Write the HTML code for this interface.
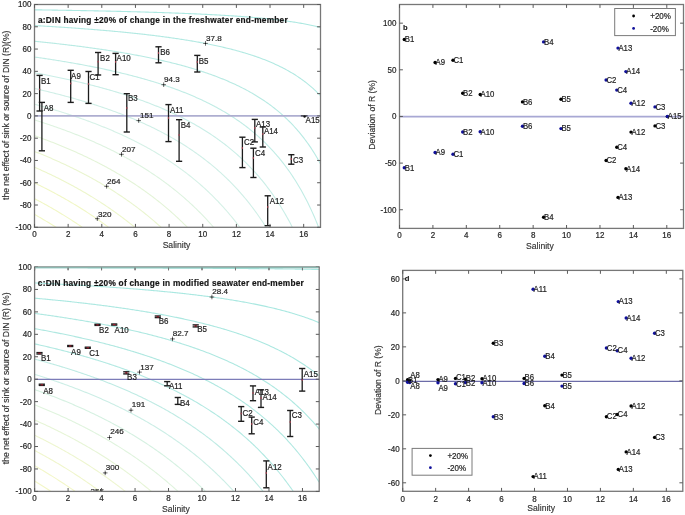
<!DOCTYPE html>
<html><head><meta charset="utf-8"><style>
html,body{margin:0;padding:0;background:#fff;}
svg{display:block;will-change:transform;}
text{font-family:"Liberation Sans",sans-serif;fill:#222;stroke:#222;stroke-width:0.2px;}
.tk{font-size:8.2px;fill:#2a2a2a;}
.al{font-size:8.6px;fill:#333;stroke:#333;stroke-width:0.15px;}
.ti{font-size:8.3px;font-weight:bold;fill:#111;letter-spacing:0.24px;stroke-width:0.2px;}
.lb{font-size:8.2px;fill:#1e1e1e;}
.lb2{font-size:8.2px;fill:#1e1e1e;}
.cl{font-size:8.1px;fill:#1e1e1e;}
.pl{font-size:7.6px;font-weight:bold;fill:#111;stroke-width:0.1px;}
.lg{font-size:8.2px;fill:#1e1e1e;}
</style></head>
<body>
<svg width="685" height="515" viewBox="0 0 685 515">
<defs>
<clipPath id="ca"><rect x="34.5" y="4.5" width="286" height="222.8"/></clipPath>
<clipPath id="cc"><rect x="34.6" y="267" width="284.6" height="224.4"/></clipPath>
</defs>
<rect width="685" height="515" fill="#fff"/>
<g clip-path="url(#ca)">
<path d="M34.5,9.82 L35.7,9.84 L36.89,9.85 L38.09,9.87 L39.29,9.89 L40.48,9.91 L41.68,9.92 L42.88,9.94 L44.07,9.96 L45.27,9.98 L46.47,10 L47.66,10.01 L48.86,10.03 L50.06,10.05 L51.25,10.07 L52.45,10.09 L53.65,10.11 L54.84,10.13 L56.04,10.15 L57.24,10.17 L58.43,10.19 L59.63,10.2 L60.83,10.22 L62.02,10.24 L63.22,10.26 L64.42,10.28 L65.61,10.31 L66.81,10.33 L68.01,10.35 L69.2,10.37 L70.4,10.39 L71.6,10.41 L72.79,10.43 L73.99,10.45 L75.19,10.47 L76.38,10.49 L77.58,10.52 L78.78,10.54 L79.97,10.56 L81.17,10.58 L82.37,10.61 L83.56,10.63 L84.76,10.65 L85.96,10.67 L87.15,10.7 L88.35,10.72 L89.55,10.74 L90.74,10.77 L91.94,10.79 L93.14,10.82 L94.33,10.84 L95.53,10.86 L96.73,10.89 L97.92,10.91 L99.12,10.94 L100.32,10.96 L101.51,10.99 L102.71,11.01 L103.91,11.04 L105.1,11.07 L106.3,11.09 L107.5,11.12 L108.69,11.15 L109.89,11.17 L111.09,11.2 L112.28,11.23 L113.48,11.25 L114.68,11.28 L115.87,11.31 L117.07,11.34 L118.27,11.37 L119.46,11.4 L120.66,11.42 L121.86,11.45 L123.05,11.48 L124.25,11.51 L125.45,11.54 L126.64,11.57 L127.84,11.6 L129.04,11.63 L130.23,11.66 L131.43,11.7 L132.63,11.73 L133.82,11.76 L135.02,11.79 L136.22,11.82 L137.41,11.86 L138.61,11.89 L139.81,11.92 L141,11.95 L142.2,11.99 L143.4,12.02 L144.59,12.06 L145.79,12.09 L146.99,12.13 L148.18,12.16 L149.38,12.2 L150.58,12.23 L151.77,12.27 L152.97,12.31 L154.17,12.34 L155.36,12.38 L156.56,12.42 L157.76,12.46 L158.95,12.5 L160.15,12.53 L161.35,12.57 L162.54,12.61 L163.74,12.65 L164.94,12.69 L166.13,12.73 L167.33,12.78 L168.53,12.82 L169.72,12.86 L170.92,12.9 L172.12,12.95 L173.31,12.99 L174.51,13.03 L175.71,13.08 L176.9,13.12 L178.1,13.17 L179.29,13.21 L180.49,13.26 L181.69,13.31 L182.88,13.35 L184.08,13.4 L185.28,13.45 L186.47,13.5 L187.67,13.55 L188.87,13.6 L190.06,13.65 L191.26,13.7 L192.46,13.75 L193.65,13.8 L194.85,13.85 L196.05,13.91 L197.24,13.96 L198.44,14.01 L199.64,14.07 L200.83,14.13 L202.03,14.18 L203.23,14.24 L204.42,14.3 L205.62,14.36 L206.82,14.41 L208.01,14.47 L209.21,14.53 L210.41,14.6 L211.6,14.66 L212.8,14.72 L214,14.78 L215.19,14.85 L216.39,14.91 L217.59,14.98 L218.78,15.05 L219.98,15.12 L221.18,15.18 L222.37,15.25 L223.57,15.32 L224.77,15.39 L225.96,15.47 L227.16,15.54 L228.36,15.61 L229.55,15.69 L230.75,15.77 L231.95,15.84 L233.14,15.92 L234.34,16 L235.54,16.08 L236.73,16.16 L237.93,16.25 L239.13,16.33 L240.32,16.42 L241.52,16.5 L242.72,16.59 L243.91,16.68 L245.11,16.77 L246.31,16.86 L247.5,16.95 L248.7,17.05 L249.9,17.15 L251.09,17.24 L252.29,17.34 L253.49,17.44 L254.68,17.54 L255.88,17.65 L257.08,17.75 L258.27,17.86 L259.47,17.97 L260.67,18.08 L261.86,18.19 L263.06,18.31 L264.26,18.42 L265.45,18.54 L266.65,18.66 L267.85,18.79 L269.04,18.91 L270.24,19.04 L271.44,19.17 L272.63,19.3 L273.83,19.43 L275.03,19.57 L276.22,19.71 L277.42,19.85 L278.62,19.99 L279.81,20.14 L281.01,20.29 L282.21,20.44 L283.4,20.59 L284.6,20.75 L285.8,20.91 L286.99,21.08 L288.19,21.25 L289.39,21.42 L290.58,21.59 L291.78,21.77 L292.98,21.95 L294.17,22.14 L295.37,22.33 L296.57,22.52 L297.76,22.72 L298.96,22.93 L300.16,23.13 L301.35,23.35 L302.55,23.56 L303.75,23.79 L304.94,24.01 L306.14,24.25 L307.34,24.49 L308.53,24.73 L309.73,24.98 L310.93,25.24 L312.12,25.5 L313.32,25.77 L314.52,26.05 L315.71,26.33 L316.91,26.63 L318.11,26.93 L319.3,27.24 L320.5,27.55" fill="none" stroke="#ace8e1" stroke-width="1.1"/>
<path d="M34.5,25.55 L35.7,25.62 L36.89,25.69 L38.09,25.76 L39.29,25.83 L40.48,25.9 L41.68,25.97 L42.88,26.04 L44.07,26.11 L45.27,26.18 L46.47,26.25 L47.66,26.33 L48.86,26.4 L50.06,26.47 L51.25,26.55 L52.45,26.62 L53.65,26.7 L54.84,26.77 L56.04,26.85 L57.24,26.93 L58.43,27 L59.63,27.08 L60.83,27.16 L62.02,27.24 L63.22,27.32 L64.42,27.4 L65.61,27.48 L66.81,27.56 L68.01,27.64 L69.2,27.72 L70.4,27.8 L71.6,27.89 L72.79,27.97 L73.99,28.06 L75.19,28.14 L76.38,28.23 L77.58,28.31 L78.78,28.4 L79.97,28.49 L81.17,28.58 L82.37,28.67 L83.56,28.76 L84.76,28.85 L85.96,28.94 L87.15,29.03 L88.35,29.12 L89.55,29.21 L90.74,29.31 L91.94,29.4 L93.14,29.5 L94.33,29.59 L95.53,29.69 L96.73,29.79 L97.92,29.88 L99.12,29.98 L100.32,30.08 L101.51,30.18 L102.71,30.29 L103.91,30.39 L105.1,30.49 L106.3,30.59 L107.5,30.7 L108.69,30.8 L109.89,30.91 L111.09,31.02 L112.28,31.12 L113.48,31.23 L114.68,31.34 L115.87,31.45 L117.07,31.57 L118.27,31.68 L119.46,31.79 L120.66,31.91 L121.86,32.02 L123.05,32.14 L124.25,32.25 L125.45,32.37 L126.64,32.49 L127.84,32.61 L129.04,32.73 L130.23,32.86 L131.43,32.98 L132.63,33.1 L133.82,33.23 L135.02,33.36 L136.22,33.48 L137.41,33.61 L138.61,33.74 L139.81,33.87 L141,34.01 L142.2,34.14 L143.4,34.28 L144.59,34.41 L145.79,34.55 L146.99,34.69 L148.18,34.83 L149.38,34.97 L150.58,35.11 L151.77,35.26 L152.97,35.4 L154.17,35.55 L155.36,35.7 L156.56,35.85 L157.76,36 L158.95,36.15 L160.15,36.3 L161.35,36.46 L162.54,36.61 L163.74,36.77 L164.94,36.93 L166.13,37.09 L167.33,37.26 L168.53,37.42 L169.72,37.59 L170.92,37.76 L172.12,37.93 L173.31,38.1 L174.51,38.27 L175.71,38.45 L176.9,38.63 L178.1,38.8 L179.29,38.98 L180.49,39.17 L181.69,39.35 L182.88,39.54 L184.08,39.73 L185.28,39.92 L186.47,40.11 L187.67,40.31 L188.87,40.5 L190.06,40.7 L191.26,40.9 L192.46,41.11 L193.65,41.31 L194.85,41.52 L196.05,41.73 L197.24,41.95 L198.44,42.16 L199.64,42.38 L200.83,42.6 L202.03,42.82 L203.23,43.05 L204.42,43.28 L205.62,43.51 L206.82,43.74 L208.01,43.98 L209.21,44.22 L210.41,44.46 L211.6,44.71 L212.8,44.96 L214,45.21 L215.19,45.46 L216.39,45.72 L217.59,45.98 L218.78,46.25 L219.98,46.52 L221.18,46.79 L222.37,47.06 L223.57,47.34 L224.77,47.62 L225.96,47.91 L227.16,48.2 L228.36,48.49 L229.55,48.79 L230.75,49.09 L231.95,49.4 L233.14,49.71 L234.34,50.02 L235.54,50.34 L236.73,50.67 L237.93,51 L239.13,51.33 L240.32,51.67 L241.52,52.01 L242.72,52.36 L243.91,52.71 L245.11,53.07 L246.31,53.43 L247.5,53.8 L248.7,54.17 L249.9,54.55 L251.09,54.94 L252.29,55.33 L253.49,55.73 L254.68,56.13 L255.88,56.54 L257.08,56.96 L258.27,57.39 L259.47,57.82 L260.67,58.25 L261.86,58.7 L263.06,59.15 L264.26,59.61 L265.45,60.08 L266.65,60.56 L267.85,61.04 L269.04,61.54 L270.24,62.04 L271.44,62.55 L272.63,63.07 L273.83,63.6 L275.03,64.14 L276.22,64.68 L277.42,65.24 L278.62,65.81 L279.81,66.39 L281.01,66.98 L282.21,67.59 L283.4,68.2 L284.6,68.83 L285.8,69.47 L286.99,70.12 L288.19,70.78 L289.39,71.46 L290.58,72.15 L291.78,72.86 L292.98,73.58 L294.17,74.32 L295.37,75.07 L296.57,75.84 L297.76,76.63 L298.96,77.43 L300.16,78.26 L301.35,79.1 L302.55,79.96 L303.75,80.84 L304.94,81.74 L306.14,82.66 L307.34,83.61 L308.53,84.57 L309.73,85.57 L310.93,86.58 L312.12,87.63 L313.32,88.7 L314.52,89.8 L315.71,90.92 L316.91,92.08 L318.11,93.27 L319.3,94.49 L320.5,95.74" fill="none" stroke="#b2e9e2" stroke-width="1.1"/>
<path d="M34.5,41.29 L35.7,41.41 L36.89,41.53 L38.09,41.65 L39.29,41.77 L40.48,41.89 L41.68,42.01 L42.88,42.14 L44.07,42.26 L45.27,42.39 L46.47,42.51 L47.66,42.64 L48.86,42.77 L50.06,42.9 L51.25,43.03 L52.45,43.16 L53.65,43.29 L54.84,43.42 L56.04,43.55 L57.24,43.69 L58.43,43.82 L59.63,43.96 L60.83,44.09 L62.02,44.23 L63.22,44.37 L64.42,44.51 L65.61,44.65 L66.81,44.79 L68.01,44.93 L69.2,45.08 L70.4,45.22 L71.6,45.37 L72.79,45.51 L73.99,45.66 L75.19,45.81 L76.38,45.96 L77.58,46.11 L78.78,46.26 L79.97,46.42 L81.17,46.57 L82.37,46.73 L83.56,46.88 L84.76,47.04 L85.96,47.2 L87.15,47.36 L88.35,47.52 L89.55,47.68 L90.74,47.85 L91.94,48.01 L93.14,48.18 L94.33,48.35 L95.53,48.51 L96.73,48.69 L97.92,48.86 L99.12,49.03 L100.32,49.2 L101.51,49.38 L102.71,49.56 L103.91,49.73 L105.1,49.91 L106.3,50.1 L107.5,50.28 L108.69,50.46 L109.89,50.65 L111.09,50.83 L112.28,51.02 L113.48,51.21 L114.68,51.4 L115.87,51.6 L117.07,51.79 L118.27,51.99 L119.46,52.19 L120.66,52.39 L121.86,52.59 L123.05,52.79 L124.25,53 L125.45,53.2 L126.64,53.41 L127.84,53.62 L129.04,53.83 L130.23,54.05 L131.43,54.26 L132.63,54.48 L133.82,54.7 L135.02,54.92 L136.22,55.15 L137.41,55.37 L138.61,55.6 L139.81,55.83 L141,56.06 L142.2,56.29 L143.4,56.53 L144.59,56.77 L145.79,57.01 L146.99,57.25 L148.18,57.49 L149.38,57.74 L150.58,57.99 L151.77,58.24 L152.97,58.49 L154.17,58.75 L155.36,59.01 L156.56,59.27 L157.76,59.53 L158.95,59.8 L160.15,60.07 L161.35,60.34 L162.54,60.62 L163.74,60.89 L164.94,61.17 L166.13,61.45 L167.33,61.74 L168.53,62.03 L169.72,62.32 L170.92,62.61 L172.12,62.91 L173.31,63.21 L174.51,63.51 L175.71,63.82 L176.9,64.13 L178.1,64.44 L179.29,64.76 L180.49,65.08 L181.69,65.4 L182.88,65.73 L184.08,66.06 L185.28,66.39 L186.47,66.73 L187.67,67.07 L188.87,67.41 L190.06,67.76 L191.26,68.11 L192.46,68.47 L193.65,68.83 L194.85,69.19 L196.05,69.56 L197.24,69.93 L198.44,70.31 L199.64,70.69 L200.83,71.07 L202.03,71.46 L203.23,71.86 L204.42,72.26 L205.62,72.66 L206.82,73.07 L208.01,73.49 L209.21,73.9 L210.41,74.33 L211.6,74.76 L212.8,75.19 L214,75.63 L215.19,76.08 L216.39,76.53 L217.59,76.98 L218.78,77.45 L219.98,77.92 L221.18,78.39 L222.37,78.87 L223.57,79.36 L224.77,79.85 L225.96,80.35 L227.16,80.86 L228.36,81.37 L229.55,81.89 L230.75,82.42 L231.95,82.96 L233.14,83.5 L234.34,84.05 L235.54,84.6 L236.73,85.17 L237.93,85.74 L239.13,86.33 L240.32,86.92 L241.52,87.51 L242.72,88.12 L243.91,88.74 L245.11,89.36 L246.31,90 L247.5,90.64 L248.7,91.3 L249.9,91.96 L251.09,92.63 L252.29,93.32 L253.49,94.01 L254.68,94.72 L255.88,95.44 L257.08,96.17 L258.27,96.91 L259.47,97.66 L260.67,98.43 L261.86,99.21 L263.06,100 L264.26,100.8 L265.45,101.62 L266.65,102.45 L267.85,103.3 L269.04,104.16 L270.24,105.04 L271.44,105.93 L272.63,106.84 L273.83,107.76 L275.03,108.7 L276.22,109.66 L277.42,110.64 L278.62,111.63 L279.81,112.65 L281.01,113.68 L282.21,114.73 L283.4,115.81 L284.6,116.9 L285.8,118.02 L286.99,119.16 L288.19,120.32 L289.39,121.5 L290.58,122.71 L291.78,123.95 L292.98,125.21 L294.17,126.5 L295.37,127.81 L296.57,129.16 L297.76,130.53 L298.96,131.94 L300.16,133.38 L301.35,134.85 L302.55,136.35 L303.75,137.89 L304.94,139.46 L306.14,141.08 L307.34,142.73 L308.53,144.42 L309.73,146.15 L310.93,147.93 L312.12,149.75 L313.32,151.62 L314.52,153.54 L315.71,155.51 L316.91,157.53 L318.11,159.61 L319.3,161.74 L320.5,163.94" fill="none" stroke="#b8eae3" stroke-width="1.1"/>
<path d="M34.5,57.03 L35.7,57.19 L36.89,57.37 L38.09,57.54 L39.29,57.71 L40.48,57.88 L41.68,58.06 L42.88,58.24 L44.07,58.41 L45.27,58.59 L46.47,58.77 L47.66,58.95 L48.86,59.14 L50.06,59.32 L51.25,59.5 L52.45,59.69 L53.65,59.88 L54.84,60.07 L56.04,60.26 L57.24,60.45 L58.43,60.64 L59.63,60.83 L60.83,61.03 L62.02,61.22 L63.22,61.42 L64.42,61.62 L65.61,61.82 L66.81,62.02 L68.01,62.23 L69.2,62.43 L70.4,62.64 L71.6,62.85 L72.79,63.06 L73.99,63.27 L75.19,63.48 L76.38,63.69 L77.58,63.91 L78.78,64.13 L79.97,64.34 L81.17,64.56 L82.37,64.79 L83.56,65.01 L84.76,65.24 L85.96,65.46 L87.15,65.69 L88.35,65.92 L89.55,66.15 L90.74,66.39 L91.94,66.62 L93.14,66.86 L94.33,67.1 L95.53,67.34 L96.73,67.58 L97.92,67.83 L99.12,68.07 L100.32,68.32 L101.51,68.57 L102.71,68.83 L103.91,69.08 L105.1,69.34 L106.3,69.6 L107.5,69.86 L108.69,70.12 L109.89,70.38 L111.09,70.65 L112.28,70.92 L113.48,71.19 L114.68,71.47 L115.87,71.74 L117.07,72.02 L118.27,72.3 L119.46,72.58 L120.66,72.87 L121.86,73.16 L123.05,73.45 L124.25,73.74 L125.45,74.03 L126.64,74.33 L127.84,74.63 L129.04,74.93 L130.23,75.24 L131.43,75.55 L132.63,75.86 L133.82,76.17 L135.02,76.49 L136.22,76.81 L137.41,77.13 L138.61,77.45 L139.81,77.78 L141,78.11 L142.2,78.45 L143.4,78.78 L144.59,79.12 L145.79,79.46 L146.99,79.81 L148.18,80.16 L149.38,80.51 L150.58,80.87 L151.77,81.23 L152.97,81.59 L154.17,81.95 L155.36,82.32 L156.56,82.7 L157.76,83.07 L158.95,83.45 L160.15,83.84 L161.35,84.23 L162.54,84.62 L163.74,85.01 L164.94,85.41 L166.13,85.81 L167.33,86.22 L168.53,86.63 L169.72,87.05 L170.92,87.47 L172.12,87.89 L173.31,88.32 L174.51,88.75 L175.71,89.19 L176.9,89.63 L178.1,90.08 L179.29,90.53 L180.49,90.99 L181.69,91.45 L182.88,91.91 L184.08,92.38 L185.28,92.86 L186.47,93.34 L187.67,93.83 L188.87,94.32 L190.06,94.81 L191.26,95.32 L192.46,95.83 L193.65,96.34 L194.85,96.86 L196.05,97.38 L197.24,97.92 L198.44,98.45 L199.64,99 L200.83,99.55 L202.03,100.11 L203.23,100.67 L204.42,101.24 L205.62,101.82 L206.82,102.4 L208.01,102.99 L209.21,103.59 L210.41,104.19 L211.6,104.81 L212.8,105.43 L214,106.06 L215.19,106.69 L216.39,107.34 L217.59,107.99 L218.78,108.65 L219.98,109.32 L221.18,109.99 L222.37,110.68 L223.57,111.38 L224.77,112.08 L225.96,112.79 L227.16,113.52 L228.36,114.25 L229.55,114.99 L230.75,115.75 L231.95,116.51 L233.14,117.29 L234.34,118.07 L235.54,118.87 L236.73,119.67 L237.93,120.49 L239.13,121.32 L240.32,122.16 L241.52,123.02 L242.72,123.89 L243.91,124.77 L245.11,125.66 L246.31,126.56 L247.5,127.48 L248.7,128.42 L249.9,129.37 L251.09,130.33 L252.29,131.31 L253.49,132.3 L254.68,133.31 L255.88,134.33 L257.08,135.38 L258.27,136.43 L259.47,137.51 L260.67,138.6 L261.86,139.71 L263.06,140.84 L264.26,141.99 L265.45,143.16 L266.65,144.35 L267.85,145.56 L269.04,146.79 L270.24,148.04 L271.44,149.31 L272.63,150.61 L273.83,151.93 L275.03,153.27 L276.22,154.64 L277.42,156.03 L278.62,157.46 L279.81,158.9 L281.01,160.38 L282.21,161.88 L283.4,163.41 L284.6,164.98 L285.8,166.57 L286.99,168.2 L288.19,169.85 L289.39,171.55 L290.58,173.27 L291.78,175.04 L292.98,176.84 L294.17,178.68 L295.37,180.56 L296.57,182.48 L297.76,184.44 L298.96,186.45 L300.16,188.5 L301.35,190.6 L302.55,192.74 L303.75,194.94 L304.94,197.19 L306.14,199.49 L307.34,201.85 L308.53,204.26 L309.73,206.74 L310.93,209.28 L312.12,211.88 L313.32,214.55 L314.52,217.29 L315.71,220.1 L316.91,222.99 L318.11,225.95 L319.3,229 L320.5,232.13" fill="none" stroke="#c1ece5" stroke-width="1.1"/>
<path d="M34.5,72.76 L35.7,72.98 L36.89,73.2 L38.09,73.43 L39.29,73.65 L40.48,73.88 L41.68,74.1 L42.88,74.33 L44.07,74.56 L45.27,74.8 L46.47,75.03 L47.66,75.27 L48.86,75.5 L50.06,75.74 L51.25,75.98 L52.45,76.22 L53.65,76.47 L54.84,76.71 L56.04,76.96 L57.24,77.21 L58.43,77.46 L59.63,77.71 L60.83,77.96 L62.02,78.22 L63.22,78.47 L64.42,78.73 L65.61,78.99 L66.81,79.26 L68.01,79.52 L69.2,79.79 L70.4,80.06 L71.6,80.33 L72.79,80.6 L73.99,80.87 L75.19,81.15 L76.38,81.43 L77.58,81.71 L78.78,81.99 L79.97,82.27 L81.17,82.56 L82.37,82.85 L83.56,83.14 L84.76,83.43 L85.96,83.73 L87.15,84.02 L88.35,84.32 L89.55,84.62 L90.74,84.93 L91.94,85.23 L93.14,85.54 L94.33,85.85 L95.53,86.17 L96.73,86.48 L97.92,86.8 L99.12,87.12 L100.32,87.44 L101.51,87.77 L102.71,88.1 L103.91,88.43 L105.1,88.76 L106.3,89.1 L107.5,89.44 L108.69,89.78 L109.89,90.12 L111.09,90.47 L112.28,90.82 L113.48,91.17 L114.68,91.53 L115.87,91.89 L117.07,92.25 L118.27,92.61 L119.46,92.98 L120.66,93.35 L121.86,93.72 L123.05,94.1 L124.25,94.48 L125.45,94.86 L126.64,95.25 L127.84,95.64 L129.04,96.04 L130.23,96.43 L131.43,96.83 L132.63,97.24 L133.82,97.64 L135.02,98.05 L136.22,98.47 L137.41,98.89 L138.61,99.31 L139.81,99.73 L141,100.16 L142.2,100.6 L143.4,101.03 L144.59,101.48 L145.79,101.92 L146.99,102.37 L148.18,102.83 L149.38,103.28 L150.58,103.75 L151.77,104.21 L152.97,104.68 L154.17,105.16 L155.36,105.64 L156.56,106.12 L157.76,106.61 L158.95,107.11 L160.15,107.61 L161.35,108.11 L162.54,108.62 L163.74,109.13 L164.94,109.65 L166.13,110.17 L167.33,110.7 L168.53,111.24 L169.72,111.78 L170.92,112.32 L172.12,112.87 L173.31,113.43 L174.51,113.99 L175.71,114.56 L176.9,115.14 L178.1,115.72 L179.29,116.3 L180.49,116.89 L181.69,117.49 L182.88,118.1 L184.08,118.71 L185.28,119.33 L186.47,119.95 L187.67,120.59 L188.87,121.22 L190.06,121.87 L191.26,122.52 L192.46,123.18 L193.65,123.85 L194.85,124.53 L196.05,125.21 L197.24,125.9 L198.44,126.6 L199.64,127.31 L200.83,128.02 L202.03,128.75 L203.23,129.48 L204.42,130.22 L205.62,130.97 L206.82,131.73 L208.01,132.5 L209.21,133.27 L210.41,134.06 L211.6,134.86 L212.8,135.66 L214,136.48 L215.19,137.31 L216.39,138.14 L217.59,138.99 L218.78,139.85 L219.98,140.72 L221.18,141.6 L222.37,142.49 L223.57,143.39 L224.77,144.31 L225.96,145.24 L227.16,146.18 L228.36,147.13 L229.55,148.1 L230.75,149.07 L231.95,150.07 L233.14,151.07 L234.34,152.09 L235.54,153.13 L236.73,154.18 L237.93,155.24 L239.13,156.32 L240.32,157.41 L241.52,158.52 L242.72,159.65 L243.91,160.79 L245.11,161.95 L246.31,163.13 L247.5,164.33 L248.7,165.54 L249.9,166.77 L251.09,168.03 L252.29,169.3 L253.49,170.59 L254.68,171.9 L255.88,173.23 L257.08,174.58 L258.27,175.96 L259.47,177.35 L260.67,178.78 L261.86,180.22 L263.06,181.69 L264.26,183.18 L265.45,184.7 L266.65,186.24 L267.85,187.81 L269.04,189.41 L270.24,191.04 L271.44,192.69 L272.63,194.38 L273.83,196.09 L275.03,197.84 L276.22,199.62 L277.42,201.43 L278.62,203.28 L279.81,205.16 L281.01,207.07 L282.21,209.03 L283.4,211.02 L284.6,213.05 L285.8,215.12 L286.99,217.23 L288.19,219.39 L289.39,221.59 L290.58,223.83 L291.78,226.13 L292.98,228.47 L294.17,230.86" fill="none" stroke="#caeee7" stroke-width="1.1"/>
<path d="M34.5,88.5 L35.7,88.77 L36.89,89.04 L38.09,89.31 L39.29,89.59 L40.48,89.87 L41.68,90.15 L42.88,90.43 L44.07,90.72 L45.27,91 L46.47,91.29 L47.66,91.58 L48.86,91.87 L50.06,92.16 L51.25,92.46 L52.45,92.76 L53.65,93.06 L54.84,93.36 L56.04,93.66 L57.24,93.97 L58.43,94.27 L59.63,94.58 L60.83,94.9 L62.02,95.21 L63.22,95.53 L64.42,95.85 L65.61,96.17 L66.81,96.49 L68.01,96.82 L69.2,97.14 L70.4,97.47 L71.6,97.81 L72.79,98.14 L73.99,98.48 L75.19,98.82 L76.38,99.16 L77.58,99.5 L78.78,99.85 L79.97,100.2 L81.17,100.55 L82.37,100.91 L83.56,101.27 L84.76,101.63 L85.96,101.99 L87.15,102.35 L88.35,102.72 L89.55,103.09 L90.74,103.47 L91.94,103.84 L93.14,104.22 L94.33,104.61 L95.53,104.99 L96.73,105.38 L97.92,105.77 L99.12,106.17 L100.32,106.56 L101.51,106.96 L102.71,107.37 L103.91,107.77 L105.1,108.19 L106.3,108.6 L107.5,109.02 L108.69,109.44 L109.89,109.86 L111.09,110.29 L112.28,110.72 L113.48,111.15 L114.68,111.59 L115.87,112.03 L117.07,112.48 L118.27,112.92 L119.46,113.38 L120.66,113.83 L121.86,114.29 L123.05,114.76 L124.25,115.22 L125.45,115.7 L126.64,116.17 L127.84,116.65 L129.04,117.14 L130.23,117.62 L131.43,118.12 L132.63,118.61 L133.82,119.11 L135.02,119.62 L136.22,120.13 L137.41,120.64 L138.61,121.16 L139.81,121.69 L141,122.22 L142.2,122.75 L143.4,123.29 L144.59,123.83 L145.79,124.38 L146.99,124.93 L148.18,125.49 L149.38,126.05 L150.58,126.62 L151.77,127.2 L152.97,127.78 L154.17,128.36 L155.36,128.95 L156.56,129.55 L157.76,130.15 L158.95,130.76 L160.15,131.37 L161.35,131.99 L162.54,132.62 L163.74,133.25 L164.94,133.89 L166.13,134.53 L167.33,135.19 L168.53,135.84 L169.72,136.51 L170.92,137.18 L172.12,137.86 L173.31,138.54 L174.51,139.23 L175.71,139.93 L176.9,140.64 L178.1,141.35 L179.29,142.07 L180.49,142.8 L181.69,143.54 L182.88,144.29 L184.08,145.04 L185.28,145.8 L186.47,146.57 L187.67,147.35 L188.87,148.13 L190.06,148.93 L191.26,149.73 L192.46,150.54 L193.65,151.37 L194.85,152.2 L196.05,153.04 L197.24,153.89 L198.44,154.75 L199.64,155.62 L200.83,156.5 L202.03,157.39 L203.23,158.29 L204.42,159.2 L205.62,160.12 L206.82,161.06 L208.01,162 L209.21,162.96 L210.41,163.93 L211.6,164.91 L212.8,165.9 L214,166.9 L215.19,167.92 L216.39,168.95 L217.59,169.99 L218.78,171.05 L219.98,172.12 L221.18,173.2 L222.37,174.3 L223.57,175.41 L224.77,176.54 L225.96,177.68 L227.16,178.84 L228.36,180.01 L229.55,181.2 L230.75,182.4 L231.95,183.62 L233.14,184.86 L234.34,186.12 L235.54,187.39 L236.73,188.68 L237.93,189.99 L239.13,191.32 L240.32,192.66 L241.52,194.03 L242.72,195.42 L243.91,196.82 L245.11,198.25 L246.31,199.7 L247.5,201.17 L248.7,202.66 L249.9,204.18 L251.09,205.72 L252.29,207.28 L253.49,208.87 L254.68,210.49 L255.88,212.12 L257.08,213.79 L258.27,215.48 L259.47,217.2 L260.67,218.95 L261.86,220.73 L263.06,222.53 L264.26,224.37 L265.45,226.24 L266.65,228.14 L267.85,230.07 L269.04,232.04" fill="none" stroke="#d0efe7" stroke-width="1.1"/>
<path d="M34.5,104.23 L35.7,104.55 L36.89,104.88 L38.09,105.2 L39.29,105.53 L40.48,105.86 L41.68,106.19 L42.88,106.53 L44.07,106.87 L45.27,107.21 L46.47,107.55 L47.66,107.89 L48.86,108.24 L50.06,108.59 L51.25,108.94 L52.45,109.29 L53.65,109.65 L54.84,110 L56.04,110.36 L57.24,110.73 L58.43,111.09 L59.63,111.46 L60.83,111.83 L62.02,112.2 L63.22,112.58 L64.42,112.96 L65.61,113.34 L66.81,113.72 L68.01,114.11 L69.2,114.5 L70.4,114.89 L71.6,115.28 L72.79,115.68 L73.99,116.08 L75.19,116.49 L76.38,116.89 L77.58,117.3 L78.78,117.71 L79.97,118.13 L81.17,118.55 L82.37,118.97 L83.56,119.39 L84.76,119.82 L85.96,120.25 L87.15,120.68 L88.35,121.12 L89.55,121.56 L90.74,122.01 L91.94,122.45 L93.14,122.9 L94.33,123.36 L95.53,123.82 L96.73,124.28 L97.92,124.74 L99.12,125.21 L100.32,125.68 L101.51,126.16 L102.71,126.64 L103.91,127.12 L105.1,127.61 L106.3,128.1 L107.5,128.6 L108.69,129.09 L109.89,129.6 L111.09,130.1 L112.28,130.62 L113.48,131.13 L114.68,131.65 L115.87,132.17 L117.07,132.7 L118.27,133.24 L119.46,133.77 L120.66,134.31 L121.86,134.86 L123.05,135.41 L124.25,135.97 L125.45,136.53 L126.64,137.09 L127.84,137.66 L129.04,138.24 L130.23,138.82 L131.43,139.4 L132.63,139.99 L133.82,140.59 L135.02,141.19 L136.22,141.79 L137.41,142.4 L138.61,143.02 L139.81,143.64 L141,144.27 L142.2,144.9 L143.4,145.54 L144.59,146.19 L145.79,146.84 L146.99,147.49 L148.18,148.16 L149.38,148.83 L150.58,149.5 L151.77,150.18 L152.97,150.87 L154.17,151.57 L155.36,152.27 L156.56,152.98 L157.76,153.69 L158.95,154.41 L160.15,155.14 L161.35,155.88 L162.54,156.62 L163.74,157.37 L164.94,158.13 L166.13,158.89 L167.33,159.67 L168.53,160.45 L169.72,161.24 L170.92,162.03 L172.12,162.84 L173.31,163.65 L174.51,164.47 L175.71,165.3 L176.9,166.14 L178.1,166.99 L179.29,167.85 L180.49,168.71 L181.69,169.59 L182.88,170.47 L184.08,171.37 L185.28,172.27 L186.47,173.18 L187.67,174.11 L188.87,175.04 L190.06,175.98 L191.26,176.94 L192.46,177.9 L193.65,178.88 L194.85,179.86 L196.05,180.86 L197.24,181.87 L198.44,182.89 L199.64,183.93 L200.83,184.97 L202.03,186.03 L203.23,187.1 L204.42,188.18 L205.62,189.28 L206.82,190.39 L208.01,191.51 L209.21,192.64 L210.41,193.79 L211.6,194.96 L212.8,196.13 L214,197.33 L215.19,198.53 L216.39,199.76 L217.59,200.99 L218.78,202.25 L219.98,203.52 L221.18,204.8 L222.37,206.11 L223.57,207.43 L224.77,208.77 L225.96,210.12 L227.16,211.5 L228.36,212.89 L229.55,214.3 L230.75,215.73 L231.95,217.18 L233.14,218.65 L234.34,220.14 L235.54,221.65 L236.73,223.18 L237.93,224.74 L239.13,226.31 L240.32,227.91 L241.52,229.54 L242.72,231.18 L243.91,232.85" fill="none" stroke="#d6f1e7" stroke-width="1.1"/>
<path d="M34.5,119.97 L35.7,120.34 L36.89,120.71 L38.09,121.09 L39.29,121.47 L40.48,121.85 L41.68,122.24 L42.88,122.63 L44.07,123.02 L45.27,123.41 L46.47,123.81 L47.66,124.2 L48.86,124.6 L50.06,125.01 L51.25,125.41 L52.45,125.82 L53.65,126.24 L54.84,126.65 L56.04,127.07 L57.24,127.49 L58.43,127.91 L59.63,128.34 L60.83,128.77 L62.02,129.2 L63.22,129.63 L64.42,130.07 L65.61,130.51 L66.81,130.96 L68.01,131.4 L69.2,131.85 L70.4,132.31 L71.6,132.76 L72.79,133.22 L73.99,133.69 L75.19,134.15 L76.38,134.62 L77.58,135.1 L78.78,135.58 L79.97,136.06 L81.17,136.54 L82.37,137.03 L83.56,137.52 L84.76,138.01 L85.96,138.51 L87.15,139.02 L88.35,139.52 L89.55,140.03 L90.74,140.55 L91.94,141.06 L93.14,141.59 L94.33,142.11 L95.53,142.64 L96.73,143.18 L97.92,143.71 L99.12,144.26 L100.32,144.8 L101.51,145.35 L102.71,145.91 L103.91,146.47 L105.1,147.03 L106.3,147.6 L107.5,148.17 L108.69,148.75 L109.89,149.33 L111.09,149.92 L112.28,150.51 L113.48,151.11 L114.68,151.71 L115.87,152.32 L117.07,152.93 L118.27,153.55 L119.46,154.17 L120.66,154.8 L121.86,155.43 L123.05,156.07 L124.25,156.71 L125.45,157.36 L126.64,158.01 L127.84,158.67 L129.04,159.34 L130.23,160.01 L131.43,160.68 L132.63,161.37 L133.82,162.06 L135.02,162.75 L136.22,163.45 L137.41,164.16 L138.61,164.87 L139.81,165.59 L141,166.32 L142.2,167.05 L143.4,167.79 L144.59,168.54 L145.79,169.29 L146.99,170.05 L148.18,170.82 L149.38,171.6 L150.58,172.38 L151.77,173.17 L152.97,173.96 L154.17,174.77 L155.36,175.58 L156.56,176.4 L157.76,177.23 L158.95,178.06 L160.15,178.91 L161.35,179.76 L162.54,180.62 L163.74,181.49 L164.94,182.37 L166.13,183.25 L167.33,184.15 L168.53,185.05 L169.72,185.97 L170.92,186.89 L172.12,187.82 L173.31,188.76 L174.51,189.71 L175.71,190.67 L176.9,191.65 L178.1,192.63 L179.29,193.62 L180.49,194.62 L181.69,195.63 L182.88,196.66 L184.08,197.69 L185.28,198.74 L186.47,199.8 L187.67,200.87 L188.87,201.95 L190.06,203.04 L191.26,204.14 L192.46,205.26 L193.65,206.39 L194.85,207.53 L196.05,208.69 L197.24,209.86 L198.44,211.04 L199.64,212.24 L200.83,213.45 L202.03,214.67 L203.23,215.91 L204.42,217.16 L205.62,218.43 L206.82,219.71 L208.01,221.01 L209.21,222.33 L210.41,223.66 L211.6,225 L212.8,226.37 L214,227.75 L215.19,229.15 L216.39,230.56 L217.59,232" fill="none" stroke="#def3e0" stroke-width="1.1"/>
<path d="M34.5,135.7 L35.7,136.13 L36.89,136.55 L38.09,136.98 L39.29,137.41 L40.48,137.85 L41.68,138.28 L42.88,138.73 L44.07,139.17 L45.27,139.62 L46.47,140.06 L47.66,140.52 L48.86,140.97 L50.06,141.43 L51.25,141.89 L52.45,142.36 L53.65,142.82 L54.84,143.3 L56.04,143.77 L57.24,144.25 L58.43,144.73 L59.63,145.21 L60.83,145.7 L62.02,146.19 L63.22,146.68 L64.42,147.18 L65.61,147.68 L66.81,148.19 L68.01,148.7 L69.2,149.21 L70.4,149.72 L71.6,150.24 L72.79,150.77 L73.99,151.29 L75.19,151.82 L76.38,152.36 L77.58,152.9 L78.78,153.44 L79.97,153.98 L81.17,154.53 L82.37,155.09 L83.56,155.65 L84.76,156.21 L85.96,156.78 L87.15,157.35 L88.35,157.92 L89.55,158.5 L90.74,159.09 L91.94,159.67 L93.14,160.27 L94.33,160.87 L95.53,161.47 L96.73,162.07 L97.92,162.69 L99.12,163.3 L100.32,163.92 L101.51,164.55 L102.71,165.18 L103.91,165.82 L105.1,166.46 L106.3,167.1 L107.5,167.75 L108.69,168.41 L109.89,169.07 L111.09,169.74 L112.28,170.41 L113.48,171.09 L114.68,171.77 L115.87,172.46 L117.07,173.16 L118.27,173.86 L119.46,174.56 L120.66,175.28 L121.86,176 L123.05,176.72 L124.25,177.45 L125.45,178.19 L126.64,178.93 L127.84,179.68 L129.04,180.44 L130.23,181.2 L131.43,181.97 L132.63,182.74 L133.82,183.53 L135.02,184.32 L136.22,185.11 L137.41,185.92 L138.61,186.73 L139.81,187.55 L141,188.37 L142.2,189.21 L143.4,190.05 L144.59,190.9 L145.79,191.75 L146.99,192.62 L148.18,193.49 L149.38,194.37 L150.58,195.26 L151.77,196.15 L152.97,197.06 L154.17,197.97 L155.36,198.9 L156.56,199.83 L157.76,200.77 L158.95,201.72 L160.15,202.68 L161.35,203.64 L162.54,204.62 L163.74,205.61 L164.94,206.61 L166.13,207.61 L167.33,208.63 L168.53,209.66 L169.72,210.7 L170.92,211.74 L172.12,212.8 L173.31,213.87 L174.51,214.95 L175.71,216.05 L176.9,217.15 L178.1,218.26 L179.29,219.39 L180.49,220.53 L181.69,221.68 L182.88,222.84 L184.08,224.02 L185.28,225.21 L186.47,226.41 L187.67,227.63 L188.87,228.85 L190.06,230.09 L191.26,231.35 L192.46,232.62" fill="none" stroke="#e4f4d8" stroke-width="1.1"/>
<path d="M34.5,151.44 L35.7,151.91 L36.89,152.39 L38.09,152.87 L39.29,153.35 L40.48,153.84 L41.68,154.33 L42.88,154.82 L44.07,155.32 L45.27,155.82 L46.47,156.32 L47.66,156.83 L48.86,157.34 L50.06,157.85 L51.25,158.37 L52.45,158.89 L53.65,159.41 L54.84,159.94 L56.04,160.47 L57.24,161.01 L58.43,161.55 L59.63,162.09 L60.83,162.63 L62.02,163.18 L63.22,163.74 L64.42,164.29 L65.61,164.86 L66.81,165.42 L68.01,165.99 L69.2,166.56 L70.4,167.14 L71.6,167.72 L72.79,168.31 L73.99,168.9 L75.19,169.49 L76.38,170.09 L77.58,170.69 L78.78,171.3 L79.97,171.91 L81.17,172.53 L82.37,173.15 L83.56,173.77 L84.76,174.4 L85.96,175.04 L87.15,175.68 L88.35,176.32 L89.55,176.97 L90.74,177.63 L91.94,178.29 L93.14,178.95 L94.33,179.62 L95.53,180.29 L96.73,180.97 L97.92,181.66 L99.12,182.35 L100.32,183.04 L101.51,183.74 L102.71,184.45 L103.91,185.16 L105.1,185.88 L106.3,186.6 L107.5,187.33 L108.69,188.07 L109.89,188.81 L111.09,189.56 L112.28,190.31 L113.48,191.07 L114.68,191.83 L115.87,192.61 L117.07,193.39 L118.27,194.17 L119.46,194.96 L120.66,195.76 L121.86,196.56 L123.05,197.38 L124.25,198.19 L125.45,199.02 L126.64,199.85 L127.84,200.69 L129.04,201.54 L130.23,202.39 L131.43,203.25 L132.63,204.12 L133.82,205 L135.02,205.88 L136.22,206.78 L137.41,207.68 L138.61,208.58 L139.81,209.5 L141,210.43 L142.2,211.36 L143.4,212.3 L144.59,213.25 L145.79,214.21 L146.99,215.18 L148.18,216.15 L149.38,217.14 L150.58,218.13 L151.77,219.14 L152.97,220.15 L154.17,221.18 L155.36,222.21 L156.56,223.25 L157.76,224.31 L158.95,225.37 L160.15,226.44 L161.35,227.53 L162.54,228.62 L163.74,229.73 L164.94,230.85 L166.13,231.97" fill="none" stroke="#eaf5d0" stroke-width="1.1"/>
<path d="M34.5,167.17 L35.7,167.7 L36.89,168.23 L38.09,168.76 L39.29,169.29 L40.48,169.83 L41.68,170.38 L42.88,170.92 L44.07,171.47 L45.27,172.02 L46.47,172.58 L47.66,173.14 L48.86,173.71 L50.06,174.28 L51.25,174.85 L52.45,175.42 L53.65,176 L54.84,176.59 L56.04,177.18 L57.24,177.77 L58.43,178.36 L59.63,178.96 L60.83,179.57 L62.02,180.18 L63.22,180.79 L64.42,181.41 L65.61,182.03 L66.81,182.65 L68.01,183.28 L69.2,183.92 L70.4,184.56 L71.6,185.2 L72.79,185.85 L73.99,186.5 L75.19,187.16 L76.38,187.82 L77.58,188.49 L78.78,189.16 L79.97,189.84 L81.17,190.52 L82.37,191.21 L83.56,191.9 L84.76,192.6 L85.96,193.3 L87.15,194.01 L88.35,194.72 L89.55,195.44 L90.74,196.17 L91.94,196.9 L93.14,197.63 L94.33,198.37 L95.53,199.12 L96.73,199.87 L97.92,200.63 L99.12,201.39 L100.32,202.16 L101.51,202.94 L102.71,203.72 L103.91,204.51 L105.1,205.3 L106.3,206.11 L107.5,206.91 L108.69,207.73 L109.89,208.55 L111.09,209.37 L112.28,210.21 L113.48,211.05 L114.68,211.9 L115.87,212.75 L117.07,213.61 L118.27,214.48 L119.46,215.36 L120.66,216.24 L121.86,217.13 L123.05,218.03 L124.25,218.94 L125.45,219.85 L126.64,220.77 L127.84,221.7 L129.04,222.64 L130.23,223.58 L131.43,224.54 L132.63,225.5 L133.82,226.47 L135.02,227.45 L136.22,228.44 L137.41,229.43 L138.61,230.44 L139.81,231.45 L141,232.48" fill="none" stroke="#edf6cb" stroke-width="1.1"/>
<path d="M34.5,182.91 L35.7,183.48 L36.89,184.06 L38.09,184.65 L39.29,185.23 L40.48,185.83 L41.68,186.42 L42.88,187.02 L44.07,187.62 L45.27,188.23 L46.47,188.84 L47.66,189.46 L48.86,190.07 L50.06,190.7 L51.25,191.33 L52.45,191.96 L53.65,192.59 L54.84,193.23 L56.04,193.88 L57.24,194.53 L58.43,195.18 L59.63,195.84 L60.83,196.5 L62.02,197.17 L63.22,197.84 L64.42,198.52 L65.61,199.2 L66.81,199.89 L68.01,200.58 L69.2,201.27 L70.4,201.98 L71.6,202.68 L72.79,203.39 L73.99,204.11 L75.19,204.83 L76.38,205.56 L77.58,206.29 L78.78,207.03 L79.97,207.77 L81.17,208.52 L82.37,209.27 L83.56,210.03 L84.76,210.79 L85.96,211.57 L87.15,212.34 L88.35,213.12 L89.55,213.91 L90.74,214.71 L91.94,215.51 L93.14,216.31 L94.33,217.13 L95.53,217.94 L96.73,218.77 L97.92,219.6 L99.12,220.44 L100.32,221.28 L101.51,222.13 L102.71,222.99 L103.91,223.86 L105.1,224.73 L106.3,225.61 L107.5,226.49 L108.69,227.38 L109.89,228.28 L111.09,229.19 L112.28,230.11 L113.48,231.03 L114.68,231.96" fill="none" stroke="#f1f7c6" stroke-width="1.1"/>
<path d="M34.5,198.64 L35.7,199.27 L36.89,199.9 L38.09,200.54 L39.29,201.17 L40.48,201.82 L41.68,202.47 L42.88,203.12 L44.07,203.77 L45.27,204.43 L46.47,205.1 L47.66,205.77 L48.86,206.44 L50.06,207.12 L51.25,207.8 L52.45,208.49 L53.65,209.18 L54.84,209.88 L56.04,210.58 L57.24,211.29 L58.43,212 L59.63,212.72 L60.83,213.44 L62.02,214.16 L63.22,214.89 L64.42,215.63 L65.61,216.37 L66.81,217.12 L68.01,217.87 L69.2,218.63 L70.4,219.39 L71.6,220.16 L72.79,220.93 L73.99,221.71 L75.19,222.5 L76.38,223.29 L77.58,224.09 L78.78,224.89 L79.97,225.7 L81.17,226.51 L82.37,227.33 L83.56,228.16 L84.76,228.99 L85.96,229.83 L87.15,230.67 L88.35,231.52 L89.55,232.38" fill="none" stroke="#f1f7c5" stroke-width="1.1"/>
<path d="M34.5,214.38 L35.7,215.06 L36.89,215.74 L38.09,216.42 L39.29,217.11 L40.48,217.81 L41.68,218.51 L42.88,219.22 L44.07,219.92 L45.27,220.64 L46.47,221.36 L47.66,222.08 L48.86,222.81 L50.06,223.54 L51.25,224.28 L52.45,225.02 L53.65,225.77 L54.84,226.53 L56.04,227.28 L57.24,228.05 L58.43,228.82 L59.63,229.59 L60.83,230.37 L62.02,231.16 L63.22,231.95 L64.42,232.74" fill="none" stroke="#f1f7c5" stroke-width="1.1"/>
</g>
<line x1="34.5" y1="115.9" x2="320.5" y2="115.9" stroke="#aeaed0" stroke-width="1.8"/>
<line x1="39.6" y1="75.4" x2="39.6" y2="111" stroke="#1c1c1c" stroke-width="1.3"/>
<line x1="36.5" y1="75.4" x2="42.7" y2="75.4" stroke="#1c1c1c" stroke-width="1.4"/>
<line x1="36.5" y1="111" x2="42.7" y2="111" stroke="#1c1c1c" stroke-width="1.4"/>
<rect x="39" y="88.6" width="1.2" height="1.6" fill="#b04050"/>
<line x1="41.9" y1="102.4" x2="41.9" y2="150.8" stroke="#1c1c1c" stroke-width="1.3"/>
<line x1="38.8" y1="102.4" x2="45" y2="102.4" stroke="#1c1c1c" stroke-width="1.4"/>
<line x1="38.8" y1="150.8" x2="45" y2="150.8" stroke="#1c1c1c" stroke-width="1.4"/>
<line x1="70.7" y1="70.3" x2="70.7" y2="102.4" stroke="#1c1c1c" stroke-width="1.3"/>
<line x1="67.6" y1="70.3" x2="73.8" y2="70.3" stroke="#1c1c1c" stroke-width="1.4"/>
<line x1="67.6" y1="102.4" x2="73.8" y2="102.4" stroke="#1c1c1c" stroke-width="1.4"/>
<rect x="70.1" y="82.7" width="1.2" height="1.6" fill="#b04050"/>
<line x1="88.5" y1="71.5" x2="88.5" y2="103.4" stroke="#1c1c1c" stroke-width="1.3"/>
<line x1="85.4" y1="71.5" x2="91.6" y2="71.5" stroke="#1c1c1c" stroke-width="1.4"/>
<line x1="85.4" y1="103.4" x2="91.6" y2="103.4" stroke="#1c1c1c" stroke-width="1.4"/>
<rect x="87.9" y="83.2" width="1.2" height="1.6" fill="#b04050"/>
<line x1="98.1" y1="52.5" x2="98.1" y2="75" stroke="#1c1c1c" stroke-width="1.3"/>
<line x1="95" y1="52.5" x2="101.2" y2="52.5" stroke="#1c1c1c" stroke-width="1.4"/>
<line x1="95" y1="75" x2="101.2" y2="75" stroke="#1c1c1c" stroke-width="1.4"/>
<rect x="97.5" y="60.9" width="1.2" height="1.6" fill="#b04050"/>
<line x1="115.6" y1="53.4" x2="115.6" y2="74.7" stroke="#1c1c1c" stroke-width="1.3"/>
<line x1="112.5" y1="53.4" x2="118.7" y2="53.4" stroke="#1c1c1c" stroke-width="1.4"/>
<line x1="112.5" y1="74.7" x2="118.7" y2="74.7" stroke="#1c1c1c" stroke-width="1.4"/>
<rect x="115" y="61.1" width="1.2" height="1.6" fill="#b04050"/>
<line x1="158.5" y1="46.8" x2="158.5" y2="62.8" stroke="#1c1c1c" stroke-width="1.3"/>
<line x1="155.4" y1="46.8" x2="161.6" y2="46.8" stroke="#1c1c1c" stroke-width="1.4"/>
<line x1="155.4" y1="62.8" x2="161.6" y2="62.8" stroke="#1c1c1c" stroke-width="1.4"/>
<rect x="157.9" y="52.2" width="1.2" height="1.6" fill="#b04050"/>
<line x1="197.3" y1="55.4" x2="197.3" y2="72" stroke="#1c1c1c" stroke-width="1.3"/>
<line x1="194.2" y1="55.4" x2="200.4" y2="55.4" stroke="#1c1c1c" stroke-width="1.4"/>
<line x1="194.2" y1="72" x2="200.4" y2="72" stroke="#1c1c1c" stroke-width="1.4"/>
<rect x="196.7" y="61.2" width="1.2" height="1.6" fill="#b04050"/>
<line x1="126.8" y1="93.7" x2="126.8" y2="132" stroke="#1c1c1c" stroke-width="1.3"/>
<line x1="123.7" y1="93.7" x2="129.9" y2="93.7" stroke="#1c1c1c" stroke-width="1.4"/>
<line x1="123.7" y1="132" x2="129.9" y2="132" stroke="#1c1c1c" stroke-width="1.4"/>
<rect x="126.2" y="107.2" width="1.2" height="1.6" fill="#b04050"/>
<line x1="168.5" y1="104.6" x2="168.5" y2="141.6" stroke="#1c1c1c" stroke-width="1.3"/>
<line x1="165.4" y1="104.6" x2="171.6" y2="104.6" stroke="#1c1c1c" stroke-width="1.4"/>
<line x1="165.4" y1="141.6" x2="171.6" y2="141.6" stroke="#1c1c1c" stroke-width="1.4"/>
<rect x="167.9" y="117.2" width="1.2" height="1.6" fill="#b04050"/>
<line x1="179.1" y1="119.7" x2="179.1" y2="161.3" stroke="#1c1c1c" stroke-width="1.3"/>
<line x1="176" y1="119.7" x2="182.2" y2="119.7" stroke="#1c1c1c" stroke-width="1.4"/>
<line x1="176" y1="161.3" x2="182.2" y2="161.3" stroke="#1c1c1c" stroke-width="1.4"/>
<rect x="178.5" y="134.2" width="1.2" height="1.6" fill="#b04050"/>
<line x1="254.8" y1="119.4" x2="254.8" y2="141.9" stroke="#1c1c1c" stroke-width="1.3"/>
<line x1="251.7" y1="119.4" x2="257.9" y2="119.4" stroke="#1c1c1c" stroke-width="1.4"/>
<line x1="251.7" y1="141.9" x2="257.9" y2="141.9" stroke="#1c1c1c" stroke-width="1.4"/>
<rect x="254.2" y="127.2" width="1.2" height="1.6" fill="#b04050"/>
<line x1="262.8" y1="127" x2="262.8" y2="147" stroke="#1c1c1c" stroke-width="1.3"/>
<line x1="259.7" y1="127" x2="265.9" y2="127" stroke="#1c1c1c" stroke-width="1.4"/>
<line x1="259.7" y1="147" x2="265.9" y2="147" stroke="#1c1c1c" stroke-width="1.4"/>
<rect x="262.2" y="133.2" width="1.2" height="1.6" fill="#b04050"/>
<line x1="242.4" y1="137.2" x2="242.4" y2="167.6" stroke="#1c1c1c" stroke-width="1.3"/>
<line x1="239.3" y1="137.2" x2="245.5" y2="137.2" stroke="#1c1c1c" stroke-width="1.4"/>
<line x1="239.3" y1="167.6" x2="245.5" y2="167.6" stroke="#1c1c1c" stroke-width="1.4"/>
<rect x="241.8" y="147.2" width="1.2" height="1.6" fill="#b04050"/>
<line x1="253.4" y1="148.2" x2="253.4" y2="177.5" stroke="#1c1c1c" stroke-width="1.3"/>
<line x1="250.3" y1="148.2" x2="256.5" y2="148.2" stroke="#1c1c1c" stroke-width="1.4"/>
<line x1="250.3" y1="177.5" x2="256.5" y2="177.5" stroke="#1c1c1c" stroke-width="1.4"/>
<rect x="252.8" y="157.2" width="1.2" height="1.6" fill="#b04050"/>
<line x1="291.3" y1="154.7" x2="291.3" y2="164.2" stroke="#1c1c1c" stroke-width="1.3"/>
<line x1="288.2" y1="154.7" x2="294.4" y2="154.7" stroke="#1c1c1c" stroke-width="1.4"/>
<line x1="288.2" y1="164.2" x2="294.4" y2="164.2" stroke="#1c1c1c" stroke-width="1.4"/>
<rect x="290.7" y="158.2" width="1.2" height="1.6" fill="#b04050"/>
<line x1="267.7" y1="195.8" x2="267.7" y2="225.7" stroke="#1c1c1c" stroke-width="1.3"/>
<line x1="264.6" y1="195.8" x2="270.8" y2="195.8" stroke="#1c1c1c" stroke-width="1.4"/>
<line x1="264.6" y1="225.7" x2="270.8" y2="225.7" stroke="#1c1c1c" stroke-width="1.4"/>
<rect x="267.1" y="206.2" width="1.2" height="1.6" fill="#b04050"/>
<line x1="300.8" y1="115.9" x2="307.6" y2="115.9" stroke="#222" stroke-width="1.1"/>
<circle cx="304.6" cy="116.6" r="1.2" fill="#111"/>
<text transform="translate(40.9,83.5) scale(0.97,1)" class="lb">B1</text>
<text transform="translate(43.7,111.1) scale(0.97,1)" class="lb">A8</text>
<text transform="translate(71.1,78.5) scale(0.97,1)" class="lb">A9</text>
<text transform="translate(89.5,80.4) scale(0.97,1)" class="lb">C1</text>
<text transform="translate(100.1,60.7) scale(0.97,1)" class="lb">B2</text>
<text transform="translate(116.6,60.6) scale(0.97,1)" class="lb">A10</text>
<text transform="translate(160.2,54.5) scale(0.97,1)" class="lb">B6</text>
<text transform="translate(198.7,63.5) scale(0.97,1)" class="lb">B5</text>
<text transform="translate(127.9,101.1) scale(0.97,1)" class="lb">B3</text>
<text transform="translate(170,112.5) scale(0.97,1)" class="lb">A11</text>
<text transform="translate(180.7,127.6) scale(0.97,1)" class="lb">B4</text>
<text transform="translate(256,126.7) scale(0.97,1)" class="lb">A13</text>
<text transform="translate(263.9,133.6) scale(0.97,1)" class="lb">A14</text>
<text transform="translate(243.9,144.7) scale(0.97,1)" class="lb">C2</text>
<text transform="translate(255.1,156.3) scale(0.97,1)" class="lb">C4</text>
<text transform="translate(293,162.5) scale(0.97,1)" class="lb">C3</text>
<text transform="translate(269.7,204.2) scale(0.97,1)" class="lb">A12</text>
<text transform="translate(305.6,123.1) scale(0.97,1)" class="lb">A15</text>
<path d="M203.2,43.4 H207.8 M205.5,41.1 V45.7" stroke="#3a3a3a" stroke-width="0.75" fill="none"/>
<circle cx="205.5" cy="43.4" r="0.55" fill="#111"/>
<text x="205.9" y="40.8" class="cl">37.8</text>
<path d="M161.4,84.7 H166 M163.7,82.4 V87" stroke="#3a3a3a" stroke-width="0.75" fill="none"/>
<circle cx="163.7" cy="84.7" r="0.55" fill="#111"/>
<text x="164" y="81.9" class="cl">94.3</text>
<path d="M136.4,120.6 H141 M138.7,118.3 V122.9" stroke="#3a3a3a" stroke-width="0.75" fill="none"/>
<circle cx="138.7" cy="120.6" r="0.55" fill="#111"/>
<text x="140" y="117.8" class="cl">151</text>
<path d="M119.2,154.3 H123.8 M121.5,152 V156.6" stroke="#3a3a3a" stroke-width="0.75" fill="none"/>
<circle cx="121.5" cy="154.3" r="0.55" fill="#111"/>
<text x="122" y="151.5" class="cl">207</text>
<path d="M104.3,186.3 H108.9 M106.6,184 V188.6" stroke="#3a3a3a" stroke-width="0.75" fill="none"/>
<circle cx="106.6" cy="186.3" r="0.55" fill="#111"/>
<text x="107" y="183.5" class="cl">264</text>
<path d="M95,218.7 H99.6 M97.3,216.4 V221" stroke="#3a3a3a" stroke-width="0.75" fill="none"/>
<circle cx="97.3" cy="218.7" r="0.55" fill="#111"/>
<text x="97.9" y="216.5" class="cl">320</text>
<rect x="34.5" y="4.5" width="286" height="222.8" fill="none" stroke="#777777" stroke-width="1.3"/>
<line x1="34.5" y1="227.3" x2="34.5" y2="223.9" stroke="#5a5a5a" stroke-width="1"/>
<line x1="34.5" y1="4.5" x2="34.5" y2="7.9" stroke="#5a5a5a" stroke-width="1"/>
<text transform="translate(34.5,236.6) scale(0.98,1)" class="tk" text-anchor="middle">0</text>
<line x1="68.15" y1="227.3" x2="68.15" y2="223.9" stroke="#5a5a5a" stroke-width="1"/>
<line x1="68.15" y1="4.5" x2="68.15" y2="7.9" stroke="#5a5a5a" stroke-width="1"/>
<text transform="translate(68.15,236.6) scale(0.98,1)" class="tk" text-anchor="middle">2</text>
<line x1="101.79" y1="227.3" x2="101.79" y2="223.9" stroke="#5a5a5a" stroke-width="1"/>
<line x1="101.79" y1="4.5" x2="101.79" y2="7.9" stroke="#5a5a5a" stroke-width="1"/>
<text transform="translate(101.79,236.6) scale(0.98,1)" class="tk" text-anchor="middle">4</text>
<line x1="135.44" y1="227.3" x2="135.44" y2="223.9" stroke="#5a5a5a" stroke-width="1"/>
<line x1="135.44" y1="4.5" x2="135.44" y2="7.9" stroke="#5a5a5a" stroke-width="1"/>
<text transform="translate(135.44,236.6) scale(0.98,1)" class="tk" text-anchor="middle">6</text>
<line x1="169.09" y1="227.3" x2="169.09" y2="223.9" stroke="#5a5a5a" stroke-width="1"/>
<line x1="169.09" y1="4.5" x2="169.09" y2="7.9" stroke="#5a5a5a" stroke-width="1"/>
<text transform="translate(169.09,236.6) scale(0.98,1)" class="tk" text-anchor="middle">8</text>
<line x1="202.74" y1="227.3" x2="202.74" y2="223.9" stroke="#5a5a5a" stroke-width="1"/>
<line x1="202.74" y1="4.5" x2="202.74" y2="7.9" stroke="#5a5a5a" stroke-width="1"/>
<text transform="translate(202.74,236.6) scale(0.98,1)" class="tk" text-anchor="middle">10</text>
<line x1="236.38" y1="227.3" x2="236.38" y2="223.9" stroke="#5a5a5a" stroke-width="1"/>
<line x1="236.38" y1="4.5" x2="236.38" y2="7.9" stroke="#5a5a5a" stroke-width="1"/>
<text transform="translate(236.38,236.6) scale(0.98,1)" class="tk" text-anchor="middle">12</text>
<line x1="270.03" y1="227.3" x2="270.03" y2="223.9" stroke="#5a5a5a" stroke-width="1"/>
<line x1="270.03" y1="4.5" x2="270.03" y2="7.9" stroke="#5a5a5a" stroke-width="1"/>
<text transform="translate(270.03,236.6) scale(0.98,1)" class="tk" text-anchor="middle">14</text>
<line x1="303.68" y1="227.3" x2="303.68" y2="223.9" stroke="#5a5a5a" stroke-width="1"/>
<line x1="303.68" y1="4.5" x2="303.68" y2="7.9" stroke="#5a5a5a" stroke-width="1"/>
<text transform="translate(303.68,236.6) scale(0.98,1)" class="tk" text-anchor="middle">16</text>
<line x1="34.5" y1="227.3" x2="37.9" y2="227.3" stroke="#5a5a5a" stroke-width="1"/>
<line x1="320.5" y1="227.3" x2="317.1" y2="227.3" stroke="#5a5a5a" stroke-width="1"/>
<text transform="translate(31.5,230.2) scale(0.98,1)" class="tk" text-anchor="end">-100</text>
<line x1="34.5" y1="205.02" x2="37.9" y2="205.02" stroke="#5a5a5a" stroke-width="1"/>
<line x1="320.5" y1="205.02" x2="317.1" y2="205.02" stroke="#5a5a5a" stroke-width="1"/>
<text transform="translate(31.5,207.92) scale(0.98,1)" class="tk" text-anchor="end">-80</text>
<line x1="34.5" y1="182.74" x2="37.9" y2="182.74" stroke="#5a5a5a" stroke-width="1"/>
<line x1="320.5" y1="182.74" x2="317.1" y2="182.74" stroke="#5a5a5a" stroke-width="1"/>
<text transform="translate(31.5,185.64) scale(0.98,1)" class="tk" text-anchor="end">-60</text>
<line x1="34.5" y1="160.46" x2="37.9" y2="160.46" stroke="#5a5a5a" stroke-width="1"/>
<line x1="320.5" y1="160.46" x2="317.1" y2="160.46" stroke="#5a5a5a" stroke-width="1"/>
<text transform="translate(31.5,163.36) scale(0.98,1)" class="tk" text-anchor="end">-40</text>
<line x1="34.5" y1="138.18" x2="37.9" y2="138.18" stroke="#5a5a5a" stroke-width="1"/>
<line x1="320.5" y1="138.18" x2="317.1" y2="138.18" stroke="#5a5a5a" stroke-width="1"/>
<text transform="translate(31.5,141.08) scale(0.98,1)" class="tk" text-anchor="end">-20</text>
<line x1="34.5" y1="115.9" x2="37.9" y2="115.9" stroke="#5a5a5a" stroke-width="1"/>
<line x1="320.5" y1="115.9" x2="317.1" y2="115.9" stroke="#5a5a5a" stroke-width="1"/>
<text transform="translate(31.5,118.8) scale(0.98,1)" class="tk" text-anchor="end">0</text>
<line x1="34.5" y1="93.62" x2="37.9" y2="93.62" stroke="#5a5a5a" stroke-width="1"/>
<line x1="320.5" y1="93.62" x2="317.1" y2="93.62" stroke="#5a5a5a" stroke-width="1"/>
<text transform="translate(31.5,96.52) scale(0.98,1)" class="tk" text-anchor="end">20</text>
<line x1="34.5" y1="71.34" x2="37.9" y2="71.34" stroke="#5a5a5a" stroke-width="1"/>
<line x1="320.5" y1="71.34" x2="317.1" y2="71.34" stroke="#5a5a5a" stroke-width="1"/>
<text transform="translate(31.5,74.24) scale(0.98,1)" class="tk" text-anchor="end">40</text>
<line x1="34.5" y1="49.06" x2="37.9" y2="49.06" stroke="#5a5a5a" stroke-width="1"/>
<line x1="320.5" y1="49.06" x2="317.1" y2="49.06" stroke="#5a5a5a" stroke-width="1"/>
<text transform="translate(31.5,51.96) scale(0.98,1)" class="tk" text-anchor="end">60</text>
<line x1="34.5" y1="26.78" x2="37.9" y2="26.78" stroke="#5a5a5a" stroke-width="1"/>
<line x1="320.5" y1="26.78" x2="317.1" y2="26.78" stroke="#5a5a5a" stroke-width="1"/>
<text transform="translate(31.5,29.68) scale(0.98,1)" class="tk" text-anchor="end">80</text>
<line x1="34.5" y1="4.5" x2="37.9" y2="4.5" stroke="#5a5a5a" stroke-width="1"/>
<line x1="320.5" y1="4.5" x2="317.1" y2="4.5" stroke="#5a5a5a" stroke-width="1"/>
<text transform="translate(31.5,7.4) scale(0.98,1)" class="tk" text-anchor="end">100</text>
<text x="176.5" y="247.9" class="al" text-anchor="middle">Salinity</text>
<text x="38" y="23.2" class="ti">a:DIN having ±20% of change in the freshwater end-member</text>
<text transform="translate(9.0,115.3) rotate(-90)" class="al" text-anchor="middle">the net effect of sink or source of DIN (R)(%)</text>
<g clip-path="url(#cc)">
<path d="M34.6,267.7 L35.79,267.7 L36.98,267.71 L38.17,267.71 L39.36,267.71 L40.55,267.71 L41.74,267.72 L42.94,267.72 L44.13,267.72 L45.32,267.72 L46.51,267.73 L47.7,267.73 L48.89,267.73 L50.08,267.73 L51.27,267.74 L52.46,267.74 L53.65,267.74 L54.84,267.74 L56.03,267.75 L57.23,267.75 L58.42,267.75 L59.61,267.75 L60.8,267.76 L61.99,267.76 L63.18,267.76 L64.37,267.77 L65.56,267.77 L66.75,267.77 L67.94,267.77 L69.13,267.78 L70.32,267.78 L71.51,267.78 L72.71,267.79 L73.9,267.79 L75.09,267.79 L76.28,267.79 L77.47,267.8 L78.66,267.8 L79.85,267.8 L81.04,267.81 L82.23,267.81 L83.42,267.81 L84.61,267.82 L85.8,267.82 L86.99,267.82 L88.19,267.83 L89.38,267.83 L90.57,267.83 L91.76,267.84 L92.95,267.84 L94.14,267.84 L95.33,267.84 L96.52,267.85 L97.71,267.85 L98.9,267.85 L100.09,267.86 L101.28,267.86 L102.48,267.87 L103.67,267.87 L104.86,267.87 L106.05,267.88 L107.24,267.88 L108.43,267.88 L109.62,267.89 L110.81,267.89 L112,267.89 L113.19,267.9 L114.38,267.9 L115.57,267.9 L116.76,267.91 L117.96,267.91 L119.15,267.92 L120.34,267.92 L121.53,267.92 L122.72,267.93 L123.91,267.93 L125.1,267.93 L126.29,267.94 L127.48,267.94 L128.67,267.95 L129.86,267.95 L131.05,267.95 L132.25,267.96 L133.44,267.96 L134.63,267.97 L135.82,267.97 L137.01,267.98 L138.2,267.98 L139.39,267.98 L140.58,267.99 L141.77,267.99 L142.96,268 L144.15,268 L145.34,268.01 L146.53,268.01 L147.73,268.01 L148.92,268.02 L150.11,268.02 L151.3,268.03 L152.49,268.03 L153.68,268.04 L154.87,268.04 L156.06,268.05 L157.25,268.05 L158.44,268.06 L159.63,268.06 L160.82,268.07 L162.02,268.07 L163.21,268.08 L164.4,268.08 L165.59,268.09 L166.78,268.09 L167.97,268.1 L169.16,268.1 L170.35,268.11 L171.54,268.11 L172.73,268.12 L173.92,268.12 L175.11,268.13 L176.3,268.13 L177.5,268.14 L178.69,268.15 L179.88,268.15 L181.07,268.16 L182.26,268.16 L183.45,268.17 L184.64,268.17 L185.83,268.18 L187.02,268.19 L188.21,268.19 L189.4,268.2 L190.59,268.2 L191.78,268.21 L192.98,268.22 L194.17,268.22 L195.36,268.23 L196.55,268.23 L197.74,268.24 L198.93,268.25 L200.12,268.25 L201.31,268.26 L202.5,268.27 L203.69,268.27 L204.88,268.28 L206.07,268.29 L207.27,268.29 L208.46,268.3 L209.65,268.31 L210.84,268.32 L212.03,268.32 L213.22,268.33 L214.41,268.34 L215.6,268.34 L216.79,268.35 L217.98,268.36 L219.17,268.37 L220.36,268.37 L221.55,268.38 L222.75,268.39 L223.94,268.4 L225.13,268.41 L226.32,268.41 L227.51,268.42 L228.7,268.43 L229.89,268.44 L231.08,268.45 L232.27,268.46 L233.46,268.46 L234.65,268.47 L235.84,268.48 L237.04,268.49 L238.23,268.5 L239.42,268.51 L240.61,268.52 L241.8,268.53 L242.99,268.54 L244.18,268.55 L245.37,268.55 L246.56,268.56 L247.75,268.57 L248.94,268.58 L250.13,268.59 L251.32,268.6 L252.52,268.61 L253.71,268.62 L254.9,268.63 L256.09,268.65 L257.28,268.66 L258.47,268.67 L259.66,268.68 L260.85,268.69 L262.04,268.7 L263.23,268.71 L264.42,268.72 L265.61,268.73 L266.81,268.75 L268,268.76 L269.19,268.77 L270.38,268.78 L271.57,268.79 L272.76,268.81 L273.95,268.82 L275.14,268.83 L276.33,268.84 L277.52,268.86 L278.71,268.87 L279.9,268.88 L281.09,268.9 L282.29,268.91 L283.48,268.93 L284.67,268.94 L285.86,268.95 L287.05,268.97 L288.24,268.98 L289.43,269 L290.62,269.01 L291.81,269.03 L293,269.04 L294.19,269.06 L295.38,269.08 L296.57,269.09 L297.77,269.11 L298.96,269.12 L300.15,269.14 L301.34,269.16 L302.53,269.18 L303.72,269.19 L304.91,269.21 L306.1,269.23 L307.29,269.25 L308.48,269.27 L309.67,269.29 L310.86,269.31 L312.06,269.33 L313.25,269.35 L314.44,269.37 L315.63,269.39 L316.82,269.41 L318.01,269.43 L319.2,269.45" fill="none" stroke="#a8e8e1" stroke-width="1.1"/>
<path d="M34.6,282.93 L35.79,282.99 L36.98,283.04 L38.17,283.1 L39.36,283.15 L40.55,283.21 L41.74,283.27 L42.94,283.32 L44.13,283.38 L45.32,283.44 L46.51,283.49 L47.7,283.55 L48.89,283.61 L50.08,283.67 L51.27,283.73 L52.46,283.79 L53.65,283.85 L54.84,283.91 L56.03,283.97 L57.23,284.03 L58.42,284.09 L59.61,284.15 L60.8,284.22 L61.99,284.28 L63.18,284.34 L64.37,284.4 L65.56,284.47 L66.75,284.53 L67.94,284.6 L69.13,284.66 L70.32,284.73 L71.51,284.79 L72.71,284.86 L73.9,284.92 L75.09,284.99 L76.28,285.06 L77.47,285.13 L78.66,285.19 L79.85,285.26 L81.04,285.33 L82.23,285.4 L83.42,285.47 L84.61,285.54 L85.8,285.61 L86.99,285.68 L88.19,285.76 L89.38,285.83 L90.57,285.9 L91.76,285.97 L92.95,286.05 L94.14,286.12 L95.33,286.2 L96.52,286.27 L97.71,286.35 L98.9,286.42 L100.09,286.5 L101.28,286.58 L102.48,286.66 L103.67,286.73 L104.86,286.81 L106.05,286.89 L107.24,286.97 L108.43,287.05 L109.62,287.13 L110.81,287.21 L112,287.3 L113.19,287.38 L114.38,287.46 L115.57,287.55 L116.76,287.63 L117.96,287.72 L119.15,287.8 L120.34,287.89 L121.53,287.98 L122.72,288.06 L123.91,288.15 L125.1,288.24 L126.29,288.33 L127.48,288.42 L128.67,288.51 L129.86,288.6 L131.05,288.69 L132.25,288.79 L133.44,288.88 L134.63,288.97 L135.82,289.07 L137.01,289.16 L138.2,289.26 L139.39,289.36 L140.58,289.46 L141.77,289.55 L142.96,289.65 L144.15,289.75 L145.34,289.85 L146.53,289.96 L147.73,290.06 L148.92,290.16 L150.11,290.26 L151.3,290.37 L152.49,290.47 L153.68,290.58 L154.87,290.69 L156.06,290.8 L157.25,290.91 L158.44,291.01 L159.63,291.13 L160.82,291.24 L162.02,291.35 L163.21,291.46 L164.4,291.58 L165.59,291.69 L166.78,291.81 L167.97,291.93 L169.16,292.04 L170.35,292.16 L171.54,292.28 L172.73,292.4 L173.92,292.53 L175.11,292.65 L176.3,292.77 L177.5,292.9 L178.69,293.02 L179.88,293.15 L181.07,293.28 L182.26,293.41 L183.45,293.54 L184.64,293.67 L185.83,293.8 L187.02,293.94 L188.21,294.07 L189.4,294.21 L190.59,294.35 L191.78,294.49 L192.98,294.63 L194.17,294.77 L195.36,294.91 L196.55,295.05 L197.74,295.2 L198.93,295.34 L200.12,295.49 L201.31,295.64 L202.5,295.79 L203.69,295.94 L204.88,296.1 L206.07,296.25 L207.27,296.41 L208.46,296.57 L209.65,296.73 L210.84,296.89 L212.03,297.05 L213.22,297.21 L214.41,297.38 L215.6,297.55 L216.79,297.71 L217.98,297.88 L219.17,298.06 L220.36,298.23 L221.55,298.41 L222.75,298.58 L223.94,298.76 L225.13,298.94 L226.32,299.12 L227.51,299.31 L228.7,299.5 L229.89,299.68 L231.08,299.87 L232.27,300.07 L233.46,300.26 L234.65,300.46 L235.84,300.65 L237.04,300.86 L238.23,301.06 L239.42,301.26 L240.61,301.47 L241.8,301.68 L242.99,301.89 L244.18,302.1 L245.37,302.32 L246.56,302.54 L247.75,302.76 L248.94,302.98 L250.13,303.21 L251.32,303.44 L252.52,303.67 L253.71,303.9 L254.9,304.14 L256.09,304.38 L257.28,304.62 L258.47,304.86 L259.66,305.11 L260.85,305.36 L262.04,305.61 L263.23,305.87 L264.42,306.13 L265.61,306.39 L266.81,306.66 L268,306.92 L269.19,307.2 L270.38,307.47 L271.57,307.75 L272.76,308.03 L273.95,308.32 L275.14,308.61 L276.33,308.9 L277.52,309.2 L278.71,309.5 L279.9,309.8 L281.09,310.11 L282.29,310.43 L283.48,310.74 L284.67,311.06 L285.86,311.39 L287.05,311.72 L288.24,312.05 L289.43,312.39 L290.62,312.74 L291.81,313.08 L293,313.44 L294.19,313.79 L295.38,314.16 L296.57,314.52 L297.77,314.9 L298.96,315.28 L300.15,315.66 L301.34,316.05 L302.53,316.45 L303.72,316.85 L304.91,317.26 L306.1,317.67 L307.29,318.09 L308.48,318.51 L309.67,318.95 L310.86,319.39 L312.06,319.83 L313.25,320.29 L314.44,320.75 L315.63,321.21 L316.82,321.69 L318.01,322.17 L319.2,322.66" fill="none" stroke="#aae8e1" stroke-width="1.1"/>
<path d="M34.6,298.16 L35.79,298.27 L36.98,298.38 L38.17,298.49 L39.36,298.6 L40.55,298.71 L41.74,298.82 L42.94,298.93 L44.13,299.04 L45.32,299.15 L46.51,299.26 L47.7,299.38 L48.89,299.49 L50.08,299.61 L51.27,299.72 L52.46,299.84 L53.65,299.96 L54.84,300.07 L56.03,300.19 L57.23,300.31 L58.42,300.43 L59.61,300.55 L60.8,300.67 L61.99,300.8 L63.18,300.92 L64.37,301.04 L65.56,301.17 L66.75,301.29 L67.94,301.42 L69.13,301.54 L70.32,301.67 L71.51,301.8 L72.71,301.93 L73.9,302.06 L75.09,302.19 L76.28,302.32 L77.47,302.45 L78.66,302.59 L79.85,302.72 L81.04,302.86 L82.23,302.99 L83.42,303.13 L84.61,303.27 L85.8,303.41 L86.99,303.55 L88.19,303.69 L89.38,303.83 L90.57,303.97 L91.76,304.11 L92.95,304.26 L94.14,304.4 L95.33,304.55 L96.52,304.7 L97.71,304.84 L98.9,304.99 L100.09,305.14 L101.28,305.29 L102.48,305.45 L103.67,305.6 L104.86,305.75 L106.05,305.91 L107.24,306.06 L108.43,306.22 L109.62,306.38 L110.81,306.54 L112,306.7 L113.19,306.86 L114.38,307.03 L115.57,307.19 L116.76,307.35 L117.96,307.52 L119.15,307.69 L120.34,307.86 L121.53,308.03 L122.72,308.2 L123.91,308.37 L125.1,308.54 L126.29,308.72 L127.48,308.9 L128.67,309.07 L129.86,309.25 L131.05,309.43 L132.25,309.61 L133.44,309.8 L134.63,309.98 L135.82,310.17 L137.01,310.35 L138.2,310.54 L139.39,310.73 L140.58,310.92 L141.77,311.11 L142.96,311.31 L144.15,311.5 L145.34,311.7 L146.53,311.9 L147.73,312.1 L148.92,312.3 L150.11,312.5 L151.3,312.71 L152.49,312.92 L153.68,313.12 L154.87,313.33 L156.06,313.54 L157.25,313.76 L158.44,313.97 L159.63,314.19 L160.82,314.41 L162.02,314.63 L163.21,314.85 L164.4,315.07 L165.59,315.3 L166.78,315.52 L167.97,315.75 L169.16,315.98 L170.35,316.22 L171.54,316.45 L172.73,316.69 L173.92,316.93 L175.11,317.17 L176.3,317.41 L177.5,317.65 L178.69,317.9 L179.88,318.15 L181.07,318.4 L182.26,318.65 L183.45,318.91 L184.64,319.17 L185.83,319.43 L187.02,319.69 L188.21,319.95 L189.4,320.22 L190.59,320.49 L191.78,320.76 L192.98,321.04 L194.17,321.31 L195.36,321.59 L196.55,321.87 L197.74,322.16 L198.93,322.44 L200.12,322.73 L201.31,323.02 L202.5,323.32 L203.69,323.61 L204.88,323.91 L206.07,324.22 L207.27,324.52 L208.46,324.83 L209.65,325.14 L210.84,325.46 L212.03,325.78 L213.22,326.1 L214.41,326.42 L215.6,326.75 L216.79,327.08 L217.98,327.41 L219.17,327.75 L220.36,328.09 L221.55,328.43 L222.75,328.78 L223.94,329.13 L225.13,329.48 L226.32,329.84 L227.51,330.2 L228.7,330.56 L229.89,330.93 L231.08,331.3 L232.27,331.68 L233.46,332.06 L234.65,332.44 L235.84,332.83 L237.04,333.22 L238.23,333.62 L239.42,334.02 L240.61,334.42 L241.8,334.83 L242.99,335.24 L244.18,335.66 L245.37,336.08 L246.56,336.51 L247.75,336.94 L248.94,337.38 L250.13,337.82 L251.32,338.27 L252.52,338.72 L253.71,339.18 L254.9,339.64 L256.09,340.11 L257.28,340.58 L258.47,341.06 L259.66,341.54 L260.85,342.03 L262.04,342.52 L263.23,343.03 L264.42,343.53 L265.61,344.05 L266.81,344.57 L268,345.09 L269.19,345.62 L270.38,346.16 L271.57,346.71 L272.76,347.26 L273.95,347.82 L275.14,348.39 L276.33,348.96 L277.52,349.54 L278.71,350.13 L279.9,350.73 L281.09,351.33 L282.29,351.94 L283.48,352.56 L284.67,353.19 L285.86,353.82 L287.05,354.47 L288.24,355.12 L289.43,355.79 L290.62,356.46 L291.81,357.14 L293,357.83 L294.19,358.53 L295.38,359.24 L296.57,359.96 L297.77,360.69 L298.96,361.43 L300.15,362.18 L301.34,362.94 L302.53,363.72 L303.72,364.5 L304.91,365.3 L306.1,366.11 L307.29,366.93 L308.48,367.76 L309.67,368.61 L310.86,369.47 L312.06,370.34 L313.25,371.23 L314.44,372.13 L315.63,373.04 L316.82,373.97 L318.01,374.92 L319.2,375.88" fill="none" stroke="#ace8e1" stroke-width="1.1"/>
<path d="M34.6,313.39 L35.79,313.55 L36.98,313.71 L38.17,313.88 L39.36,314.04 L40.55,314.2 L41.74,314.37 L42.94,314.53 L44.13,314.7 L45.32,314.86 L46.51,315.03 L47.7,315.2 L48.89,315.37 L50.08,315.54 L51.27,315.72 L52.46,315.89 L53.65,316.06 L54.84,316.24 L56.03,316.41 L57.23,316.59 L58.42,316.77 L59.61,316.95 L60.8,317.13 L61.99,317.31 L63.18,317.5 L64.37,317.68 L65.56,317.87 L66.75,318.05 L67.94,318.24 L69.13,318.43 L70.32,318.62 L71.51,318.81 L72.71,319 L73.9,319.19 L75.09,319.39 L76.28,319.59 L77.47,319.78 L78.66,319.98 L79.85,320.18 L81.04,320.38 L82.23,320.58 L83.42,320.79 L84.61,320.99 L85.8,321.2 L86.99,321.41 L88.19,321.62 L89.38,321.83 L90.57,322.04 L91.76,322.25 L92.95,322.47 L94.14,322.68 L95.33,322.9 L96.52,323.12 L97.71,323.34 L98.9,323.56 L100.09,323.78 L101.28,324.01 L102.48,324.24 L103.67,324.46 L104.86,324.69 L106.05,324.92 L107.24,325.16 L108.43,325.39 L109.62,325.63 L110.81,325.87 L112,326.1 L113.19,326.35 L114.38,326.59 L115.57,326.83 L116.76,327.08 L117.96,327.33 L119.15,327.58 L120.34,327.83 L121.53,328.08 L122.72,328.33 L123.91,328.59 L125.1,328.85 L126.29,329.11 L127.48,329.37 L128.67,329.64 L129.86,329.9 L131.05,330.17 L132.25,330.44 L133.44,330.71 L134.63,330.99 L135.82,331.26 L137.01,331.54 L138.2,331.82 L139.39,332.1 L140.58,332.39 L141.77,332.68 L142.96,332.96 L144.15,333.26 L145.34,333.55 L146.53,333.84 L147.73,334.14 L148.92,334.44 L150.11,334.75 L151.3,335.05 L152.49,335.36 L153.68,335.67 L154.87,335.98 L156.06,336.29 L157.25,336.61 L158.44,336.93 L159.63,337.25 L160.82,337.58 L162.02,337.9 L163.21,338.23 L164.4,338.57 L165.59,338.9 L166.78,339.24 L167.97,339.58 L169.16,339.92 L170.35,340.27 L171.54,340.62 L172.73,340.97 L173.92,341.33 L175.11,341.69 L176.3,342.05 L177.5,342.41 L178.69,342.78 L179.88,343.15 L181.07,343.52 L182.26,343.9 L183.45,344.28 L184.64,344.66 L185.83,345.05 L187.02,345.44 L188.21,345.84 L189.4,346.23 L190.59,346.63 L191.78,347.04 L192.98,347.44 L194.17,347.86 L195.36,348.27 L196.55,348.69 L197.74,349.11 L198.93,349.54 L200.12,349.97 L201.31,350.4 L202.5,350.84 L203.69,351.29 L204.88,351.73 L206.07,352.18 L207.27,352.64 L208.46,353.1 L209.65,353.56 L210.84,354.03 L212.03,354.5 L213.22,354.98 L214.41,355.46 L215.6,355.95 L216.79,356.44 L217.98,356.93 L219.17,357.43 L220.36,357.94 L221.55,358.45 L222.75,358.97 L223.94,359.49 L225.13,360.01 L226.32,360.55 L227.51,361.08 L228.7,361.63 L229.89,362.17 L231.08,362.73 L232.27,363.29 L233.46,363.85 L234.65,364.42 L235.84,365 L237.04,365.59 L238.23,366.17 L239.42,366.77 L240.61,367.37 L241.8,367.98 L242.99,368.6 L244.18,369.22 L245.37,369.85 L246.56,370.48 L247.75,371.13 L248.94,371.78 L250.13,372.43 L251.32,373.1 L252.52,373.77 L253.71,374.45 L254.9,375.14 L256.09,375.84 L257.28,376.54 L258.47,377.25 L259.66,377.97 L260.85,378.7 L262.04,379.44 L263.23,380.18 L264.42,380.94 L265.61,381.7 L266.81,382.48 L268,383.26 L269.19,384.05 L270.38,384.85 L271.57,385.67 L272.76,386.49 L273.95,387.32 L275.14,388.16 L276.33,389.02 L277.52,389.88 L278.71,390.76 L279.9,391.65 L281.09,392.54 L282.29,393.46 L283.48,394.38 L284.67,395.31 L285.86,396.26 L287.05,397.22 L288.24,398.19 L289.43,399.18 L290.62,400.18 L291.81,401.19 L293,402.22 L294.19,403.26 L295.38,404.32 L296.57,405.39 L297.77,406.48 L298.96,407.58 L300.15,408.7 L301.34,409.83 L302.53,410.99 L303.72,412.16 L304.91,413.34 L306.1,414.55 L307.29,415.77 L308.48,417.01 L309.67,418.27 L310.86,419.55 L312.06,420.85 L313.25,422.17 L314.44,423.51 L315.63,424.87 L316.82,426.25 L318.01,427.66 L319.2,429.09" fill="none" stroke="#aee8e1" stroke-width="1.1"/>
<path d="M34.6,328.63 L35.79,328.84 L36.98,329.05 L38.17,329.27 L39.36,329.48 L40.55,329.7 L41.74,329.92 L42.94,330.14 L44.13,330.36 L45.32,330.58 L46.51,330.8 L47.7,331.03 L48.89,331.25 L50.08,331.48 L51.27,331.71 L52.46,331.94 L53.65,332.17 L54.84,332.4 L56.03,332.64 L57.23,332.87 L58.42,333.11 L59.61,333.35 L60.8,333.59 L61.99,333.83 L63.18,334.07 L64.37,334.32 L65.56,334.56 L66.75,334.81 L67.94,335.06 L69.13,335.31 L70.32,335.56 L71.51,335.82 L72.71,336.07 L73.9,336.33 L75.09,336.59 L76.28,336.85 L77.47,337.11 L78.66,337.37 L79.85,337.64 L81.04,337.91 L82.23,338.18 L83.42,338.45 L84.61,338.72 L85.8,338.99 L86.99,339.27 L88.19,339.55 L89.38,339.83 L90.57,340.11 L91.76,340.39 L92.95,340.68 L94.14,340.96 L95.33,341.25 L96.52,341.54 L97.71,341.84 L98.9,342.13 L100.09,342.43 L101.28,342.73 L102.48,343.03 L103.67,343.33 L104.86,343.63 L106.05,343.94 L107.24,344.25 L108.43,344.56 L109.62,344.87 L110.81,345.19 L112,345.51 L113.19,345.83 L114.38,346.15 L115.57,346.47 L116.76,346.8 L117.96,347.13 L119.15,347.46 L120.34,347.8 L121.53,348.13 L122.72,348.47 L123.91,348.81 L125.1,349.15 L126.29,349.5 L127.48,349.85 L128.67,350.2 L129.86,350.55 L131.05,350.91 L132.25,351.27 L133.44,351.63 L134.63,351.99 L135.82,352.36 L137.01,352.73 L138.2,353.1 L139.39,353.48 L140.58,353.86 L141.77,354.24 L142.96,354.62 L144.15,355.01 L145.34,355.4 L146.53,355.79 L147.73,356.19 L148.92,356.58 L150.11,356.99 L151.3,357.39 L152.49,357.8 L153.68,358.21 L154.87,358.62 L156.06,359.04 L157.25,359.46 L158.44,359.89 L159.63,360.32 L160.82,360.75 L162.02,361.18 L163.21,361.62 L164.4,362.06 L165.59,362.51 L166.78,362.96 L167.97,363.41 L169.16,363.87 L170.35,364.33 L171.54,364.79 L172.73,365.26 L173.92,365.73 L175.11,366.21 L176.3,366.69 L177.5,367.17 L178.69,367.66 L179.88,368.15 L181.07,368.65 L182.26,369.15 L183.45,369.65 L184.64,370.16 L185.83,370.68 L187.02,371.19 L188.21,371.72 L189.4,372.24 L190.59,372.78 L191.78,373.31 L192.98,373.85 L194.17,374.4 L195.36,374.95 L196.55,375.51 L197.74,376.07 L198.93,376.64 L200.12,377.21 L201.31,377.79 L202.5,378.37 L203.69,378.96 L204.88,379.55 L206.07,380.15 L207.27,380.75 L208.46,381.36 L209.65,381.98 L210.84,382.6 L212.03,383.23 L213.22,383.86 L214.41,384.5 L215.6,385.15 L216.79,385.8 L217.98,386.46 L219.17,387.12 L220.36,387.8 L221.55,388.47 L222.75,389.16 L223.94,389.85 L225.13,390.55 L226.32,391.26 L227.51,391.97 L228.7,392.69 L229.89,393.42 L231.08,394.16 L232.27,394.9 L233.46,395.65 L234.65,396.41 L235.84,397.18 L237.04,397.95 L238.23,398.73 L239.42,399.52 L240.61,400.32 L241.8,401.13 L242.99,401.95 L244.18,402.78 L245.37,403.61 L246.56,404.46 L247.75,405.31 L248.94,406.18 L250.13,407.05 L251.32,407.93 L252.52,408.82 L253.71,409.73 L254.9,410.64 L256.09,411.57 L257.28,412.5 L258.47,413.45 L259.66,414.4 L260.85,415.37 L262.04,416.35 L263.23,417.34 L264.42,418.34 L265.61,419.36 L266.81,420.39 L268,421.43 L269.19,422.48 L270.38,423.54 L271.57,424.62 L272.76,425.72 L273.95,426.82 L275.14,427.94 L276.33,429.08 L277.52,430.22 L278.71,431.39 L279.9,432.57 L281.09,433.76 L282.29,434.97 L283.48,436.2 L284.67,437.44 L285.86,438.7 L287.05,439.97 L288.24,441.26 L289.43,442.57 L290.62,443.9 L291.81,445.25 L293,446.61 L294.19,448 L295.38,449.4 L296.57,450.82 L297.77,452.27 L298.96,453.73 L300.15,455.22 L301.34,456.73 L302.53,458.26 L303.72,459.81 L304.91,461.38 L306.1,462.98 L307.29,464.61 L308.48,466.26 L309.67,467.93 L310.86,469.63 L312.06,471.35 L313.25,473.11 L314.44,474.89 L315.63,476.7 L316.82,478.54 L318.01,480.4 L319.2,482.3" fill="none" stroke="#b0e8e1" stroke-width="1.1"/>
<path d="M34.6,343.86 L35.79,344.12 L36.98,344.39 L38.17,344.65 L39.36,344.92 L40.55,345.19 L41.74,345.47 L42.94,345.74 L44.13,346.01 L45.32,346.29 L46.51,346.57 L47.7,346.85 L48.89,347.13 L50.08,347.42 L51.27,347.7 L52.46,347.99 L53.65,348.28 L54.84,348.57 L56.03,348.86 L57.23,349.15 L58.42,349.45 L59.61,349.75 L60.8,350.05 L61.99,350.35 L63.18,350.65 L64.37,350.96 L65.56,351.26 L66.75,351.57 L67.94,351.88 L69.13,352.2 L70.32,352.51 L71.51,352.83 L72.71,353.14 L73.9,353.47 L75.09,353.79 L76.28,354.11 L77.47,354.44 L78.66,354.77 L79.85,355.1 L81.04,355.43 L82.23,355.77 L83.42,356.11 L84.61,356.44 L85.8,356.79 L86.99,357.13 L88.19,357.48 L89.38,357.83 L90.57,358.18 L91.76,358.53 L92.95,358.89 L94.14,359.24 L95.33,359.6 L96.52,359.97 L97.71,360.33 L98.9,360.7 L100.09,361.07 L101.28,361.44 L102.48,361.82 L103.67,362.19 L104.86,362.57 L106.05,362.96 L107.24,363.34 L108.43,363.73 L109.62,364.12 L110.81,364.52 L112,364.91 L113.19,365.31 L114.38,365.71 L115.57,366.12 L116.76,366.52 L117.96,366.94 L119.15,367.35 L120.34,367.76 L121.53,368.18 L122.72,368.61 L123.91,369.03 L125.1,369.46 L126.29,369.89 L127.48,370.33 L128.67,370.76 L129.86,371.2 L131.05,371.65 L132.25,372.1 L133.44,372.55 L134.63,373 L135.82,373.46 L137.01,373.92 L138.2,374.38 L139.39,374.85 L140.58,375.32 L141.77,375.8 L142.96,376.28 L144.15,376.76 L145.34,377.24 L146.53,377.73 L147.73,378.23 L148.92,378.73 L150.11,379.23 L151.3,379.73 L152.49,380.24 L153.68,380.75 L154.87,381.27 L156.06,381.79 L157.25,382.32 L158.44,382.85 L159.63,383.38 L160.82,383.92 L162.02,384.46 L163.21,385.01 L164.4,385.56 L165.59,386.11 L166.78,386.67 L167.97,387.24 L169.16,387.81 L170.35,388.38 L171.54,388.96 L172.73,389.54 L173.92,390.13 L175.11,390.73 L176.3,391.32 L177.5,391.93 L178.69,392.54 L179.88,393.15 L181.07,393.77 L182.26,394.39 L183.45,395.02 L184.64,395.66 L185.83,396.3 L187.02,396.95 L188.21,397.6 L189.4,398.26 L190.59,398.92 L191.78,399.59 L192.98,400.26 L194.17,400.95 L195.36,401.63 L196.55,402.33 L197.74,403.03 L198.93,403.73 L200.12,404.45 L201.31,405.17 L202.5,405.89 L203.69,406.63 L204.88,407.37 L206.07,408.11 L207.27,408.87 L208.46,409.63 L209.65,410.4 L210.84,411.17 L212.03,411.95 L213.22,412.74 L214.41,413.54 L215.6,414.35 L216.79,415.16 L217.98,415.98 L219.17,416.81 L220.36,417.65 L221.55,418.5 L222.75,419.35 L223.94,420.22 L225.13,421.09 L226.32,421.97 L227.51,422.86 L228.7,423.76 L229.89,424.66 L231.08,425.58 L232.27,426.51 L233.46,427.45 L234.65,428.39 L235.84,429.35 L237.04,430.32 L238.23,431.29 L239.42,432.28 L240.61,433.28 L241.8,434.29 L242.99,435.3 L244.18,436.34 L245.37,437.38 L246.56,438.43 L247.75,439.5 L248.94,440.57 L250.13,441.66 L251.32,442.76 L252.52,443.88 L253.71,445 L254.9,446.14 L256.09,447.3 L257.28,448.46 L258.47,449.64 L259.66,450.83 L260.85,452.04 L262.04,453.26 L263.23,454.5 L264.42,455.75 L265.61,457.02 L266.81,458.3 L268,459.59 L269.19,460.91 L270.38,462.24 L271.57,463.58 L272.76,464.94 L273.95,466.32 L275.14,467.72 L276.33,469.13 L277.52,470.57 L278.71,472.02 L279.9,473.49 L281.09,474.98 L282.29,476.48 L283.48,478.01 L284.67,479.56 L285.86,481.13 L287.05,482.72 L288.24,484.33 L289.43,485.97 L290.62,487.62 L291.81,489.3 L293,491 L294.19,492.73 L295.38,494.48 L296.57,496.26" fill="none" stroke="#b2e9e2" stroke-width="1.1"/>
<path d="M34.6,359.09 L35.79,359.4 L36.98,359.72 L38.17,360.04 L39.36,360.37 L40.55,360.69 L41.74,361.02 L42.94,361.34 L44.13,361.67 L45.32,362.01 L46.51,362.34 L47.7,362.67 L48.89,363.01 L50.08,363.35 L51.27,363.69 L52.46,364.04 L53.65,364.38 L54.84,364.73 L56.03,365.08 L57.23,365.43 L58.42,365.79 L59.61,366.15 L60.8,366.5 L61.99,366.87 L63.18,367.23 L64.37,367.59 L65.56,367.96 L66.75,368.33 L67.94,368.7 L69.13,369.08 L70.32,369.46 L71.51,369.83 L72.71,370.22 L73.9,370.6 L75.09,370.99 L76.28,371.38 L77.47,371.77 L78.66,372.16 L79.85,372.56 L81.04,372.96 L82.23,373.36 L83.42,373.76 L84.61,374.17 L85.8,374.58 L86.99,374.99 L88.19,375.41 L89.38,375.82 L90.57,376.25 L91.76,376.67 L92.95,377.09 L94.14,377.52 L95.33,377.96 L96.52,378.39 L97.71,378.83 L98.9,379.27 L100.09,379.71 L101.28,380.16 L102.48,380.61 L103.67,381.06 L104.86,381.51 L106.05,381.97 L107.24,382.44 L108.43,382.9 L109.62,383.37 L110.81,383.84 L112,384.32 L113.19,384.79 L114.38,385.27 L115.57,385.76 L116.76,386.25 L117.96,386.74 L119.15,387.23 L120.34,387.73 L121.53,388.24 L122.72,388.74 L123.91,389.25 L125.1,389.76 L126.29,390.28 L127.48,390.8 L128.67,391.33 L129.86,391.86 L131.05,392.39 L132.25,392.92 L133.44,393.46 L134.63,394.01 L135.82,394.56 L137.01,395.11 L138.2,395.66 L139.39,396.23 L140.58,396.79 L141.77,397.36 L142.96,397.93 L144.15,398.51 L145.34,399.09 L146.53,399.68 L147.73,400.27 L148.92,400.87 L150.11,401.47 L151.3,402.07 L152.49,402.68 L153.68,403.3 L154.87,403.92 L156.06,404.54 L157.25,405.17 L158.44,405.8 L159.63,406.44 L160.82,407.09 L162.02,407.74 L163.21,408.39 L164.4,409.05 L165.59,409.72 L166.78,410.39 L167.97,411.07 L169.16,411.75 L170.35,412.44 L171.54,413.13 L172.73,413.83 L173.92,414.53 L175.11,415.24 L176.3,415.96 L177.5,416.68 L178.69,417.41 L179.88,418.15 L181.07,418.89 L182.26,419.64 L183.45,420.39 L184.64,421.16 L185.83,421.92 L187.02,422.7 L188.21,423.48 L189.4,424.27 L190.59,425.06 L191.78,425.86 L192.98,426.67 L194.17,427.49 L195.36,428.31 L196.55,429.15 L197.74,429.98 L198.93,430.83 L200.12,431.69 L201.31,432.55 L202.5,433.42 L203.69,434.3 L204.88,435.18 L206.07,436.08 L207.27,436.98 L208.46,437.89 L209.65,438.81 L210.84,439.74 L212.03,440.68 L213.22,441.63 L214.41,442.58 L215.6,443.55 L216.79,444.52 L217.98,445.51 L219.17,446.5 L220.36,447.51 L221.55,448.52 L222.75,449.54 L223.94,450.58 L225.13,451.62 L226.32,452.68 L227.51,453.75 L228.7,454.82 L229.89,455.91 L231.08,457.01 L232.27,458.12 L233.46,459.24 L234.65,460.38 L235.84,461.52 L237.04,462.68 L238.23,463.85 L239.42,465.03 L240.61,466.23 L241.8,467.44 L242.99,468.66 L244.18,469.89 L245.37,471.14 L246.56,472.4 L247.75,473.68 L248.94,474.97 L250.13,476.28 L251.32,477.6 L252.52,478.93 L253.71,480.28 L254.9,481.64 L256.09,483.03 L257.28,484.42 L258.47,485.84 L259.66,487.27 L260.85,488.71 L262.04,490.18 L263.23,491.66 L264.42,493.15 L265.61,494.67 L266.81,496.21" fill="none" stroke="#bfebe4" stroke-width="1.1"/>
<path d="M34.6,374.32 L35.79,374.69 L36.98,375.06 L38.17,375.43 L39.36,375.81 L40.55,376.19 L41.74,376.57 L42.94,376.95 L44.13,377.33 L45.32,377.72 L46.51,378.11 L47.7,378.5 L48.89,378.89 L50.08,379.29 L51.27,379.69 L52.46,380.09 L53.65,380.49 L54.84,380.9 L56.03,381.3 L57.23,381.72 L58.42,382.13 L59.61,382.54 L60.8,382.96 L61.99,383.38 L63.18,383.81 L64.37,384.23 L65.56,384.66 L66.75,385.09 L67.94,385.53 L69.13,385.96 L70.32,386.4 L71.51,386.84 L72.71,387.29 L73.9,387.74 L75.09,388.19 L76.28,388.64 L77.47,389.1 L78.66,389.56 L79.85,390.02 L81.04,390.48 L82.23,390.95 L83.42,391.42 L84.61,391.9 L85.8,392.37 L86.99,392.85 L88.19,393.34 L89.38,393.82 L90.57,394.31 L91.76,394.81 L92.95,395.3 L94.14,395.8 L95.33,396.31 L96.52,396.81 L97.71,397.32 L98.9,397.84 L100.09,398.35 L101.28,398.87 L102.48,399.4 L103.67,399.92 L104.86,400.46 L106.05,400.99 L107.24,401.53 L108.43,402.07 L109.62,402.62 L110.81,403.17 L112,403.72 L113.19,404.28 L114.38,404.84 L115.57,405.4 L116.76,405.97 L117.96,406.54 L119.15,407.12 L120.34,407.7 L121.53,408.29 L122.72,408.88 L123.91,409.47 L125.1,410.07 L126.29,410.67 L127.48,411.28 L128.67,411.89 L129.86,412.51 L131.05,413.13 L132.25,413.75 L133.44,414.38 L134.63,415.01 L135.82,415.65 L137.01,416.3 L138.2,416.95 L139.39,417.6 L140.58,418.26 L141.77,418.92 L142.96,419.59 L144.15,420.26 L145.34,420.94 L146.53,421.62 L147.73,422.31 L148.92,423.01 L150.11,423.71 L151.3,424.41 L152.49,425.12 L153.68,425.84 L154.87,426.56 L156.06,427.29 L157.25,428.02 L158.44,428.76 L159.63,429.51 L160.82,430.26 L162.02,431.01 L163.21,431.78 L164.4,432.55 L165.59,433.32 L166.78,434.11 L167.97,434.89 L169.16,435.69 L170.35,436.49 L171.54,437.3 L172.73,438.11 L173.92,438.94 L175.11,439.76 L176.3,440.6 L177.5,441.44 L178.69,442.29 L179.88,443.15 L181.07,444.01 L182.26,444.89 L183.45,445.76 L184.64,446.65 L185.83,447.55 L187.02,448.45 L188.21,449.36 L189.4,450.28 L190.59,451.21 L191.78,452.14 L192.98,453.08 L194.17,454.04 L195.36,455 L196.55,455.96 L197.74,456.94 L198.93,457.93 L200.12,458.92 L201.31,459.93 L202.5,460.94 L203.69,461.97 L204.88,463 L206.07,464.04 L207.27,465.1 L208.46,466.16 L209.65,467.23 L210.84,468.31 L212.03,469.41 L213.22,470.51 L214.41,471.63 L215.6,472.75 L216.79,473.89 L217.98,475.03 L219.17,476.19 L220.36,477.36 L221.55,478.54 L222.75,479.74 L223.94,480.94 L225.13,482.16 L226.32,483.39 L227.51,484.63 L228.7,485.89 L229.89,487.16 L231.08,488.44 L232.27,489.73 L233.46,491.04 L234.65,492.36 L235.84,493.7 L237.04,495.05 L238.23,496.41" fill="none" stroke="#cceee6" stroke-width="1.1"/>
<path d="M34.6,389.55 L35.79,389.97 L36.98,390.4 L38.17,390.82 L39.36,391.25 L40.55,391.68 L41.74,392.12 L42.94,392.55 L44.13,392.99 L45.32,393.43 L46.51,393.88 L47.7,394.32 L48.89,394.77 L50.08,395.23 L51.27,395.68 L52.46,396.14 L53.65,396.6 L54.84,397.06 L56.03,397.53 L57.23,398 L58.42,398.47 L59.61,398.94 L60.8,399.42 L61.99,399.9 L63.18,400.38 L64.37,400.87 L65.56,401.36 L66.75,401.85 L67.94,402.35 L69.13,402.85 L70.32,403.35 L71.51,403.85 L72.71,404.36 L73.9,404.87 L75.09,405.39 L76.28,405.9 L77.47,406.42 L78.66,406.95 L79.85,407.48 L81.04,408.01 L82.23,408.54 L83.42,409.08 L84.61,409.62 L85.8,410.17 L86.99,410.72 L88.19,411.27 L89.38,411.82 L90.57,412.38 L91.76,412.95 L92.95,413.51 L94.14,414.08 L95.33,414.66 L96.52,415.24 L97.71,415.82 L98.9,416.41 L100.09,417 L101.28,417.59 L102.48,418.19 L103.67,418.79 L104.86,419.4 L106.05,420.01 L107.24,420.62 L108.43,421.24 L109.62,421.86 L110.81,422.49 L112,423.12 L113.19,423.76 L114.38,424.4 L115.57,425.04 L116.76,425.69 L117.96,426.35 L119.15,427.01 L120.34,427.67 L121.53,428.34 L122.72,429.01 L123.91,429.69 L125.1,430.37 L126.29,431.06 L127.48,431.76 L128.67,432.45 L129.86,433.16 L131.05,433.87 L132.25,434.58 L133.44,435.3 L134.63,436.02 L135.82,436.75 L137.01,437.49 L138.2,438.23 L139.39,438.97 L140.58,439.72 L141.77,440.48 L142.96,441.24 L144.15,442.01 L145.34,442.79 L146.53,443.57 L147.73,444.36 L148.92,445.15 L150.11,445.95 L151.3,446.75 L152.49,447.56 L153.68,448.38 L154.87,449.21 L156.06,450.04 L157.25,450.87 L158.44,451.72 L159.63,452.57 L160.82,453.43 L162.02,454.29 L163.21,455.16 L164.4,456.04 L165.59,456.93 L166.78,457.82 L167.97,458.72 L169.16,459.63 L170.35,460.54 L171.54,461.47 L172.73,462.4 L173.92,463.34 L175.11,464.28 L176.3,465.24 L177.5,466.2 L178.69,467.17 L179.88,468.15 L181.07,469.14 L182.26,470.13 L183.45,471.14 L184.64,472.15 L185.83,473.17 L187.02,474.2 L188.21,475.24 L189.4,476.29 L190.59,477.35 L191.78,478.42 L192.98,479.49 L194.17,480.58 L195.36,481.68 L196.55,482.78 L197.74,483.9 L198.93,485.03 L200.12,486.16 L201.31,487.31 L202.5,488.47 L203.69,489.64 L204.88,490.82 L206.07,492.01 L207.27,493.21 L208.46,494.42 L209.65,495.65 L210.84,496.89" fill="none" stroke="#d6f1e2" stroke-width="1.1"/>
<path d="M34.6,404.78 L35.79,405.26 L36.98,405.73 L38.17,406.21 L39.36,406.69 L40.55,407.18 L41.74,407.67 L42.94,408.16 L44.13,408.65 L45.32,409.15 L46.51,409.65 L47.7,410.15 L48.89,410.65 L50.08,411.16 L51.27,411.67 L52.46,412.19 L53.65,412.71 L54.84,413.23 L56.03,413.75 L57.23,414.28 L58.42,414.81 L59.61,415.34 L60.8,415.88 L61.99,416.42 L63.18,416.96 L64.37,417.51 L65.56,418.06 L66.75,418.61 L67.94,419.17 L69.13,419.73 L70.32,420.29 L71.51,420.86 L72.71,421.43 L73.9,422.01 L75.09,422.59 L76.28,423.17 L77.47,423.75 L78.66,424.34 L79.85,424.94 L81.04,425.53 L82.23,426.13 L83.42,426.74 L84.61,427.35 L85.8,427.96 L86.99,428.58 L88.19,429.2 L89.38,429.82 L90.57,430.45 L91.76,431.09 L92.95,431.72 L94.14,432.36 L95.33,433.01 L96.52,433.66 L97.71,434.31 L98.9,434.97 L100.09,435.64 L101.28,436.31 L102.48,436.98 L103.67,437.65 L104.86,438.34 L106.05,439.02 L107.24,439.71 L108.43,440.41 L109.62,441.11 L110.81,441.82 L112,442.53 L113.19,443.24 L114.38,443.96 L115.57,444.69 L116.76,445.42 L117.96,446.15 L119.15,446.89 L120.34,447.64 L121.53,448.39 L122.72,449.15 L123.91,449.91 L125.1,450.68 L126.29,451.45 L127.48,452.23 L128.67,453.02 L129.86,453.81 L131.05,454.6 L132.25,455.41 L133.44,456.21 L134.63,457.03 L135.82,457.85 L137.01,458.67 L138.2,459.51 L139.39,460.35 L140.58,461.19 L141.77,462.04 L142.96,462.9 L144.15,463.77 L145.34,464.64 L146.53,465.51 L147.73,466.4 L148.92,467.29 L150.11,468.19 L151.3,469.09 L152.49,470.01 L153.68,470.93 L154.87,471.85 L156.06,472.79 L157.25,473.73 L158.44,474.68 L159.63,475.63 L160.82,476.6 L162.02,477.57 L163.21,478.55 L164.4,479.54 L165.59,480.53 L166.78,481.54 L167.97,482.55 L169.16,483.57 L170.35,484.6 L171.54,485.64 L172.73,486.68 L173.92,487.74 L175.11,488.8 L176.3,489.88 L177.5,490.96 L178.69,492.05 L179.88,493.15 L181.07,494.26 L182.26,495.38 L183.45,496.51" fill="none" stroke="#e0f4de" stroke-width="1.1"/>
<path d="M34.6,420.01 L35.79,420.54 L36.98,421.07 L38.17,421.6 L39.36,422.14 L40.55,422.67 L41.74,423.22 L42.94,423.76 L44.13,424.31 L45.32,424.86 L46.51,425.41 L47.7,425.97 L48.89,426.53 L50.08,427.1 L51.27,427.67 L52.46,428.24 L53.65,428.81 L54.84,429.39 L56.03,429.97 L57.23,430.56 L58.42,431.15 L59.61,431.74 L60.8,432.34 L61.99,432.94 L63.18,433.54 L64.37,434.15 L65.56,434.76 L66.75,435.37 L67.94,435.99 L69.13,436.61 L70.32,437.24 L71.51,437.87 L72.71,438.5 L73.9,439.14 L75.09,439.78 L76.28,440.43 L77.47,441.08 L78.66,441.74 L79.85,442.4 L81.04,443.06 L82.23,443.73 L83.42,444.4 L84.61,445.07 L85.8,445.75 L86.99,446.44 L88.19,447.13 L89.38,447.82 L90.57,448.52 L91.76,449.22 L92.95,449.93 L94.14,450.64 L95.33,451.36 L96.52,452.08 L97.71,452.81 L98.9,453.54 L100.09,454.28 L101.28,455.02 L102.48,455.77 L103.67,456.52 L104.86,457.28 L106.05,458.04 L107.24,458.81 L108.43,459.58 L109.62,460.36 L110.81,461.14 L112,461.93 L113.19,462.72 L114.38,463.52 L115.57,464.33 L116.76,465.14 L117.96,465.96 L119.15,466.78 L120.34,467.61 L121.53,468.44 L122.72,469.29 L123.91,470.13 L125.1,470.98 L126.29,471.84 L127.48,472.71 L128.67,473.58 L129.86,474.46 L131.05,475.34 L132.25,476.23 L133.44,477.13 L134.63,478.04 L135.82,478.95 L137.01,479.86 L138.2,480.79 L139.39,481.72 L140.58,482.66 L141.77,483.6 L142.96,484.56 L144.15,485.52 L145.34,486.48 L146.53,487.46 L147.73,488.44 L148.92,489.43 L150.11,490.43 L151.3,491.43 L152.49,492.45 L153.68,493.47 L154.87,494.5 L156.06,495.54 L157.25,496.58" fill="none" stroke="#e7f5d7" stroke-width="1.1"/>
<path d="M34.6,435.24 L35.79,435.82 L36.98,436.4 L38.17,436.99 L39.36,437.58 L40.55,438.17 L41.74,438.77 L42.94,439.36 L44.13,439.97 L45.32,440.57 L46.51,441.18 L47.7,441.8 L48.89,442.41 L50.08,443.03 L51.27,443.66 L52.46,444.29 L53.65,444.92 L54.84,445.56 L56.03,446.2 L57.23,446.84 L58.42,447.49 L59.61,448.14 L60.8,448.79 L61.99,449.45 L63.18,450.12 L64.37,450.78 L65.56,451.46 L66.75,452.13 L67.94,452.81 L69.13,453.5 L70.32,454.19 L71.51,454.88 L72.71,455.58 L73.9,456.28 L75.09,456.98 L76.28,457.69 L77.47,458.41 L78.66,459.13 L79.85,459.85 L81.04,460.58 L82.23,461.32 L83.42,462.06 L84.61,462.8 L85.8,463.55 L86.99,464.3 L88.19,465.06 L89.38,465.82 L90.57,466.59 L91.76,467.36 L92.95,468.14 L94.14,468.92 L95.33,469.71 L96.52,470.51 L97.71,471.31 L98.9,472.11 L100.09,472.92 L101.28,473.74 L102.48,474.56 L103.67,475.38 L104.86,476.22 L106.05,477.06 L107.24,477.9 L108.43,478.75 L109.62,479.6 L110.81,480.47 L112,481.33 L113.19,482.21 L114.38,483.09 L115.57,483.97 L116.76,484.86 L117.96,485.76 L119.15,486.67 L120.34,487.58 L121.53,488.5 L122.72,489.42 L123.91,490.35 L125.1,491.29 L126.29,492.23 L127.48,493.19 L128.67,494.14 L129.86,495.11 L131.05,496.08" fill="none" stroke="#eef6d0" stroke-width="1.1"/>
<path d="M34.6,450.48 L35.79,451.11 L36.98,451.74 L38.17,452.38 L39.36,453.02 L40.55,453.67 L41.74,454.32 L42.94,454.97 L44.13,455.63 L45.32,456.29 L46.51,456.95 L47.7,457.62 L48.89,458.29 L50.08,458.97 L51.27,459.65 L52.46,460.34 L53.65,461.03 L54.84,461.72 L56.03,462.42 L57.23,463.12 L58.42,463.83 L59.61,464.54 L60.8,465.25 L61.99,465.97 L63.18,466.69 L64.37,467.42 L65.56,468.15 L66.75,468.89 L67.94,469.63 L69.13,470.38 L70.32,471.13 L71.51,471.89 L72.71,472.65 L73.9,473.41 L75.09,474.18 L76.28,474.96 L77.47,475.74 L78.66,476.52 L79.85,477.31 L81.04,478.11 L82.23,478.91 L83.42,479.71 L84.61,480.53 L85.8,481.34 L86.99,482.16 L88.19,482.99 L89.38,483.82 L90.57,484.66 L91.76,485.5 L92.95,486.35 L94.14,487.21 L95.33,488.07 L96.52,488.93 L97.71,489.8 L98.9,490.68 L100.09,491.56 L101.28,492.45 L102.48,493.35 L103.67,494.25 L104.86,495.16 L106.05,496.07 L107.24,496.99" fill="none" stroke="#f0f6cc" stroke-width="1.1"/>
<path d="M34.6,465.71 L35.79,466.39 L36.98,467.08 L38.17,467.77 L39.36,468.46 L40.55,469.16 L41.74,469.87 L42.94,470.57 L44.13,471.29 L45.32,472 L46.51,472.72 L47.7,473.45 L48.89,474.17 L50.08,474.91 L51.27,475.65 L52.46,476.39 L53.65,477.13 L54.84,477.88 L56.03,478.64 L57.23,479.4 L58.42,480.17 L59.61,480.93 L60.8,481.71 L61.99,482.49 L63.18,483.27 L64.37,484.06 L65.56,484.85 L66.75,485.65 L67.94,486.45 L69.13,487.26 L70.32,488.08 L71.51,488.9 L72.71,489.72 L73.9,490.55 L75.09,491.38 L76.28,492.22 L77.47,493.07 L78.66,493.92 L79.85,494.77 L81.04,495.63 L82.23,496.5" fill="none" stroke="#f3f7c8" stroke-width="1.1"/>
<path d="M34.6,480.94 L35.79,481.67 L36.98,482.41 L38.17,483.16 L39.36,483.91 L40.55,484.66 L41.74,485.42 L42.94,486.18 L44.13,486.94 L45.32,487.71 L46.51,488.49 L47.7,489.27 L48.89,490.05 L50.08,490.84 L51.27,491.64 L52.46,492.44 L53.65,493.24 L54.84,494.05 L56.03,494.86 L57.23,495.68 L58.42,496.5" fill="none" stroke="#f3f7c7" stroke-width="1.1"/>
</g>
<line x1="34.6" y1="379.3" x2="319.2" y2="379.3" stroke="#7c7cb8" stroke-width="1.3"/>
<line x1="39.5" y1="352.6" x2="39.5" y2="354" stroke="#1c1c1c" stroke-width="1.3"/>
<line x1="36.4" y1="352.6" x2="42.6" y2="352.6" stroke="#1c1c1c" stroke-width="1.4"/>
<line x1="36.4" y1="354" x2="42.6" y2="354" stroke="#1c1c1c" stroke-width="1.4"/>
<rect x="38.3" y="352.7" width="2.4" height="1.2" fill="#a02030"/>
<line x1="41.8" y1="384.2" x2="41.8" y2="385.4" stroke="#1c1c1c" stroke-width="1.3"/>
<line x1="38.7" y1="384.2" x2="44.9" y2="384.2" stroke="#1c1c1c" stroke-width="1.4"/>
<line x1="38.7" y1="385.4" x2="44.9" y2="385.4" stroke="#1c1c1c" stroke-width="1.4"/>
<rect x="40.6" y="384.2" width="2.4" height="1.2" fill="#a02030"/>
<line x1="70.2" y1="345.5" x2="70.2" y2="346.5" stroke="#1c1c1c" stroke-width="1.3"/>
<line x1="67.1" y1="345.5" x2="73.3" y2="345.5" stroke="#1c1c1c" stroke-width="1.4"/>
<line x1="67.1" y1="346.5" x2="73.3" y2="346.5" stroke="#1c1c1c" stroke-width="1.4"/>
<rect x="69" y="345.4" width="2.4" height="1.2" fill="#a02030"/>
<line x1="87.8" y1="347.2" x2="87.8" y2="348.3" stroke="#1c1c1c" stroke-width="1.3"/>
<line x1="84.7" y1="347.2" x2="90.9" y2="347.2" stroke="#1c1c1c" stroke-width="1.4"/>
<line x1="84.7" y1="348.3" x2="90.9" y2="348.3" stroke="#1c1c1c" stroke-width="1.4"/>
<rect x="86.6" y="347.15" width="2.4" height="1.2" fill="#a02030"/>
<line x1="97.5" y1="324.3" x2="97.5" y2="325.4" stroke="#1c1c1c" stroke-width="1.3"/>
<line x1="94.4" y1="324.3" x2="100.6" y2="324.3" stroke="#1c1c1c" stroke-width="1.4"/>
<line x1="94.4" y1="325.4" x2="100.6" y2="325.4" stroke="#1c1c1c" stroke-width="1.4"/>
<rect x="96.3" y="324.25" width="2.4" height="1.2" fill="#a02030"/>
<line x1="114.2" y1="324" x2="114.2" y2="325.1" stroke="#1c1c1c" stroke-width="1.3"/>
<line x1="111.1" y1="324" x2="117.3" y2="324" stroke="#1c1c1c" stroke-width="1.4"/>
<line x1="111.1" y1="325.1" x2="117.3" y2="325.1" stroke="#1c1c1c" stroke-width="1.4"/>
<rect x="113" y="323.95" width="2.4" height="1.2" fill="#a02030"/>
<line x1="157.8" y1="316" x2="157.8" y2="317.6" stroke="#1c1c1c" stroke-width="1.3"/>
<line x1="154.7" y1="316" x2="160.9" y2="316" stroke="#1c1c1c" stroke-width="1.4"/>
<line x1="154.7" y1="317.6" x2="160.9" y2="317.6" stroke="#1c1c1c" stroke-width="1.4"/>
<rect x="156.6" y="316.2" width="2.4" height="1.2" fill="#a02030"/>
<line x1="195.7" y1="324.9" x2="195.7" y2="326.9" stroke="#1c1c1c" stroke-width="1.3"/>
<line x1="192.6" y1="324.9" x2="198.8" y2="324.9" stroke="#1c1c1c" stroke-width="1.4"/>
<line x1="192.6" y1="326.9" x2="198.8" y2="326.9" stroke="#1c1c1c" stroke-width="1.4"/>
<rect x="194.5" y="325.3" width="2.4" height="1.2" fill="#a02030"/>
<line x1="126.3" y1="371.8" x2="126.3" y2="373.9" stroke="#1c1c1c" stroke-width="1.3"/>
<line x1="123.2" y1="371.8" x2="129.4" y2="371.8" stroke="#1c1c1c" stroke-width="1.4"/>
<line x1="123.2" y1="373.9" x2="129.4" y2="373.9" stroke="#1c1c1c" stroke-width="1.4"/>
<rect x="125.1" y="372.25" width="2.4" height="1.2" fill="#a02030"/>
<line x1="167.2" y1="381.6" x2="167.2" y2="385.8" stroke="#1c1c1c" stroke-width="1.3"/>
<line x1="164.1" y1="381.6" x2="170.3" y2="381.6" stroke="#1c1c1c" stroke-width="1.4"/>
<line x1="164.1" y1="385.8" x2="170.3" y2="385.8" stroke="#1c1c1c" stroke-width="1.4"/>
<line x1="177.8" y1="397.5" x2="177.8" y2="404.4" stroke="#1c1c1c" stroke-width="1.3"/>
<line x1="174.7" y1="397.5" x2="180.9" y2="397.5" stroke="#1c1c1c" stroke-width="1.4"/>
<line x1="174.7" y1="404.4" x2="180.9" y2="404.4" stroke="#1c1c1c" stroke-width="1.4"/>
<line x1="302.2" y1="368.5" x2="302.2" y2="391.1" stroke="#1c1c1c" stroke-width="1.3"/>
<line x1="299.1" y1="368.5" x2="305.3" y2="368.5" stroke="#1c1c1c" stroke-width="1.4"/>
<line x1="299.1" y1="391.1" x2="305.3" y2="391.1" stroke="#1c1c1c" stroke-width="1.4"/>
<rect x="301.6" y="379.2" width="1.2" height="1.6" fill="#b04050"/>
<line x1="253" y1="385.9" x2="253" y2="400.7" stroke="#1c1c1c" stroke-width="1.3"/>
<line x1="249.9" y1="385.9" x2="256.1" y2="385.9" stroke="#1c1c1c" stroke-width="1.4"/>
<line x1="249.9" y1="400.7" x2="256.1" y2="400.7" stroke="#1c1c1c" stroke-width="1.4"/>
<rect x="252.4" y="392.2" width="1.2" height="1.6" fill="#b04050"/>
<line x1="261" y1="389.8" x2="261" y2="407.4" stroke="#1c1c1c" stroke-width="1.3"/>
<line x1="257.9" y1="389.8" x2="264.1" y2="389.8" stroke="#1c1c1c" stroke-width="1.4"/>
<line x1="257.9" y1="407.4" x2="264.1" y2="407.4" stroke="#1c1c1c" stroke-width="1.4"/>
<rect x="260.4" y="397.2" width="1.2" height="1.6" fill="#b04050"/>
<line x1="241.2" y1="406.6" x2="241.2" y2="421.3" stroke="#1c1c1c" stroke-width="1.3"/>
<line x1="238.1" y1="406.6" x2="244.3" y2="406.6" stroke="#1c1c1c" stroke-width="1.4"/>
<line x1="238.1" y1="421.3" x2="244.3" y2="421.3" stroke="#1c1c1c" stroke-width="1.4"/>
<rect x="240.6" y="412.7" width="1.2" height="1.6" fill="#b04050"/>
<line x1="251.7" y1="417.1" x2="251.7" y2="433.8" stroke="#1c1c1c" stroke-width="1.3"/>
<line x1="248.6" y1="417.1" x2="254.8" y2="417.1" stroke="#1c1c1c" stroke-width="1.4"/>
<line x1="248.6" y1="433.8" x2="254.8" y2="433.8" stroke="#1c1c1c" stroke-width="1.4"/>
<rect x="251.1" y="423.2" width="1.2" height="1.6" fill="#b04050"/>
<line x1="290.2" y1="410.5" x2="290.2" y2="436.5" stroke="#1c1c1c" stroke-width="1.3"/>
<line x1="287.1" y1="410.5" x2="293.3" y2="410.5" stroke="#1c1c1c" stroke-width="1.4"/>
<line x1="287.1" y1="436.5" x2="293.3" y2="436.5" stroke="#1c1c1c" stroke-width="1.4"/>
<rect x="289.6" y="421.2" width="1.2" height="1.6" fill="#b04050"/>
<line x1="266.3" y1="460.9" x2="266.3" y2="487.8" stroke="#1c1c1c" stroke-width="1.3"/>
<line x1="263.2" y1="460.9" x2="269.4" y2="460.9" stroke="#1c1c1c" stroke-width="1.4"/>
<line x1="263.2" y1="487.8" x2="269.4" y2="487.8" stroke="#1c1c1c" stroke-width="1.4"/>
<rect x="265.7" y="472.2" width="1.2" height="1.6" fill="#b04050"/>
<text transform="translate(40.9,361.1) scale(0.97,1)" class="lb">B1</text>
<text transform="translate(43.2,393.5) scale(0.97,1)" class="lb">A8</text>
<text transform="translate(71.1,354.9) scale(0.97,1)" class="lb">A9</text>
<text transform="translate(89.3,355.8) scale(0.97,1)" class="lb">C1</text>
<text transform="translate(99.1,332.9) scale(0.97,1)" class="lb">B2</text>
<text transform="translate(114.6,332.8) scale(0.97,1)" class="lb">A10</text>
<text transform="translate(158.8,324) scale(0.97,1)" class="lb">B6</text>
<text transform="translate(197.2,332.1) scale(0.97,1)" class="lb">B5</text>
<text transform="translate(127.1,379.8) scale(0.97,1)" class="lb">B3</text>
<text transform="translate(169,388.8) scale(0.97,1)" class="lb">A11</text>
<text transform="translate(179.9,406.2) scale(0.97,1)" class="lb">B4</text>
<text transform="translate(303.8,377.3) scale(0.97,1)" class="lb">A15</text>
<text transform="translate(254.8,395.2) scale(0.97,1)" class="lb">A13</text>
<text transform="translate(262.6,399.8) scale(0.97,1)" class="lb">A14</text>
<text transform="translate(242.4,416.1) scale(0.97,1)" class="lb">C2</text>
<text transform="translate(253.3,425.4) scale(0.97,1)" class="lb">C4</text>
<text transform="translate(291.8,418.4) scale(0.97,1)" class="lb">C3</text>
<text transform="translate(267.6,470.1) scale(0.97,1)" class="lb">A12</text>
<path d="M209.6,297 H214.2 M211.9,294.7 V299.3" stroke="#3a3a3a" stroke-width="0.75" fill="none"/>
<circle cx="211.9" cy="297" r="0.55" fill="#111"/>
<text x="212.3" y="294" class="cl">28.4</text>
<path d="M170.2,338.9 H174.8 M172.5,336.6 V341.2" stroke="#3a3a3a" stroke-width="0.75" fill="none"/>
<circle cx="172.5" cy="338.9" r="0.55" fill="#111"/>
<text x="172.8" y="336.2" class="cl">82.7</text>
<path d="M137.2,372.1 H141.8 M139.5,369.8 V374.4" stroke="#3a3a3a" stroke-width="0.75" fill="none"/>
<circle cx="139.5" cy="372.1" r="0.55" fill="#111"/>
<text x="140.3" y="369.5" class="cl">137</text>
<path d="M128.7,410.2 H133.3 M131,407.9 V412.5" stroke="#3a3a3a" stroke-width="0.75" fill="none"/>
<circle cx="131" cy="410.2" r="0.55" fill="#111"/>
<text x="131.7" y="407.1" class="cl">191</text>
<path d="M107.2,437.5 H111.8 M109.5,435.2 V439.8" stroke="#3a3a3a" stroke-width="0.75" fill="none"/>
<circle cx="109.5" cy="437.5" r="0.55" fill="#111"/>
<text x="110.3" y="434.4" class="cl">246</text>
<path d="M102.9,472.9 H107.5 M105.2,470.6 V475.2" stroke="#3a3a3a" stroke-width="0.75" fill="none"/>
<circle cx="105.2" cy="472.9" r="0.55" fill="#111"/>
<text x="105.7" y="469.6" class="cl">300</text>
<g clip-path="url(#cc)">
<text x="90.6" y="494.3" class="cl">355</text>
</g>
<rect x="34.6" y="267" width="284.6" height="224.4" fill="none" stroke="#777777" stroke-width="1.3"/>
<line x1="34.6" y1="491.4" x2="34.6" y2="488" stroke="#5a5a5a" stroke-width="1"/>
<line x1="34.6" y1="267" x2="34.6" y2="270.4" stroke="#5a5a5a" stroke-width="1"/>
<text transform="translate(34.6,500.7) scale(0.98,1)" class="tk" text-anchor="middle">0</text>
<line x1="68.08" y1="491.4" x2="68.08" y2="488" stroke="#5a5a5a" stroke-width="1"/>
<line x1="68.08" y1="267" x2="68.08" y2="270.4" stroke="#5a5a5a" stroke-width="1"/>
<text transform="translate(68.08,500.7) scale(0.98,1)" class="tk" text-anchor="middle">2</text>
<line x1="101.56" y1="491.4" x2="101.56" y2="488" stroke="#5a5a5a" stroke-width="1"/>
<line x1="101.56" y1="267" x2="101.56" y2="270.4" stroke="#5a5a5a" stroke-width="1"/>
<text transform="translate(101.56,500.7) scale(0.98,1)" class="tk" text-anchor="middle">4</text>
<line x1="135.05" y1="491.4" x2="135.05" y2="488" stroke="#5a5a5a" stroke-width="1"/>
<line x1="135.05" y1="267" x2="135.05" y2="270.4" stroke="#5a5a5a" stroke-width="1"/>
<text transform="translate(135.05,500.7) scale(0.98,1)" class="tk" text-anchor="middle">6</text>
<line x1="168.53" y1="491.4" x2="168.53" y2="488" stroke="#5a5a5a" stroke-width="1"/>
<line x1="168.53" y1="267" x2="168.53" y2="270.4" stroke="#5a5a5a" stroke-width="1"/>
<text transform="translate(168.53,500.7) scale(0.98,1)" class="tk" text-anchor="middle">8</text>
<line x1="202.01" y1="491.4" x2="202.01" y2="488" stroke="#5a5a5a" stroke-width="1"/>
<line x1="202.01" y1="267" x2="202.01" y2="270.4" stroke="#5a5a5a" stroke-width="1"/>
<text transform="translate(202.01,500.7) scale(0.98,1)" class="tk" text-anchor="middle">10</text>
<line x1="235.49" y1="491.4" x2="235.49" y2="488" stroke="#5a5a5a" stroke-width="1"/>
<line x1="235.49" y1="267" x2="235.49" y2="270.4" stroke="#5a5a5a" stroke-width="1"/>
<text transform="translate(235.49,500.7) scale(0.98,1)" class="tk" text-anchor="middle">12</text>
<line x1="268.98" y1="491.4" x2="268.98" y2="488" stroke="#5a5a5a" stroke-width="1"/>
<line x1="268.98" y1="267" x2="268.98" y2="270.4" stroke="#5a5a5a" stroke-width="1"/>
<text transform="translate(268.98,500.7) scale(0.98,1)" class="tk" text-anchor="middle">14</text>
<line x1="302.46" y1="491.4" x2="302.46" y2="488" stroke="#5a5a5a" stroke-width="1"/>
<line x1="302.46" y1="267" x2="302.46" y2="270.4" stroke="#5a5a5a" stroke-width="1"/>
<text transform="translate(302.46,500.7) scale(0.98,1)" class="tk" text-anchor="middle">16</text>
<line x1="34.6" y1="491.4" x2="38" y2="491.4" stroke="#5a5a5a" stroke-width="1"/>
<line x1="319.2" y1="491.4" x2="315.8" y2="491.4" stroke="#5a5a5a" stroke-width="1"/>
<text transform="translate(31.6,494.3) scale(0.98,1)" class="tk" text-anchor="end">-100</text>
<line x1="34.6" y1="468.96" x2="38" y2="468.96" stroke="#5a5a5a" stroke-width="1"/>
<line x1="319.2" y1="468.96" x2="315.8" y2="468.96" stroke="#5a5a5a" stroke-width="1"/>
<text transform="translate(31.6,471.86) scale(0.98,1)" class="tk" text-anchor="end">-80</text>
<line x1="34.6" y1="446.52" x2="38" y2="446.52" stroke="#5a5a5a" stroke-width="1"/>
<line x1="319.2" y1="446.52" x2="315.8" y2="446.52" stroke="#5a5a5a" stroke-width="1"/>
<text transform="translate(31.6,449.42) scale(0.98,1)" class="tk" text-anchor="end">-60</text>
<line x1="34.6" y1="424.08" x2="38" y2="424.08" stroke="#5a5a5a" stroke-width="1"/>
<line x1="319.2" y1="424.08" x2="315.8" y2="424.08" stroke="#5a5a5a" stroke-width="1"/>
<text transform="translate(31.6,426.98) scale(0.98,1)" class="tk" text-anchor="end">-40</text>
<line x1="34.6" y1="401.64" x2="38" y2="401.64" stroke="#5a5a5a" stroke-width="1"/>
<line x1="319.2" y1="401.64" x2="315.8" y2="401.64" stroke="#5a5a5a" stroke-width="1"/>
<text transform="translate(31.6,404.54) scale(0.98,1)" class="tk" text-anchor="end">-20</text>
<line x1="34.6" y1="379.2" x2="38" y2="379.2" stroke="#5a5a5a" stroke-width="1"/>
<line x1="319.2" y1="379.2" x2="315.8" y2="379.2" stroke="#5a5a5a" stroke-width="1"/>
<text transform="translate(31.6,382.1) scale(0.98,1)" class="tk" text-anchor="end">0</text>
<line x1="34.6" y1="356.76" x2="38" y2="356.76" stroke="#5a5a5a" stroke-width="1"/>
<line x1="319.2" y1="356.76" x2="315.8" y2="356.76" stroke="#5a5a5a" stroke-width="1"/>
<text transform="translate(31.6,359.66) scale(0.98,1)" class="tk" text-anchor="end">20</text>
<line x1="34.6" y1="334.32" x2="38" y2="334.32" stroke="#5a5a5a" stroke-width="1"/>
<line x1="319.2" y1="334.32" x2="315.8" y2="334.32" stroke="#5a5a5a" stroke-width="1"/>
<text transform="translate(31.6,337.22) scale(0.98,1)" class="tk" text-anchor="end">40</text>
<line x1="34.6" y1="311.88" x2="38" y2="311.88" stroke="#5a5a5a" stroke-width="1"/>
<line x1="319.2" y1="311.88" x2="315.8" y2="311.88" stroke="#5a5a5a" stroke-width="1"/>
<text transform="translate(31.6,314.78) scale(0.98,1)" class="tk" text-anchor="end">60</text>
<line x1="34.6" y1="289.44" x2="38" y2="289.44" stroke="#5a5a5a" stroke-width="1"/>
<line x1="319.2" y1="289.44" x2="315.8" y2="289.44" stroke="#5a5a5a" stroke-width="1"/>
<text transform="translate(31.6,292.34) scale(0.98,1)" class="tk" text-anchor="end">80</text>
<line x1="34.6" y1="267" x2="38" y2="267" stroke="#5a5a5a" stroke-width="1"/>
<line x1="319.2" y1="267" x2="315.8" y2="267" stroke="#5a5a5a" stroke-width="1"/>
<text transform="translate(31.6,269.9) scale(0.98,1)" class="tk" text-anchor="end">100</text>
<text x="175.9" y="512" class="al" text-anchor="middle">Salinity</text>
<line x1="35.2" y1="267.5" x2="318.6" y2="267.5" stroke="#8cb8b0" stroke-width="1.3"/>
<line x1="34.6" y1="267.5" x2="34.6" y2="270" stroke="#777777" stroke-width="1"/>
<line x1="68.08" y1="267.5" x2="68.08" y2="270" stroke="#777777" stroke-width="1"/>
<line x1="101.56" y1="267.5" x2="101.56" y2="270" stroke="#777777" stroke-width="1"/>
<line x1="135.05" y1="267.5" x2="135.05" y2="270" stroke="#777777" stroke-width="1"/>
<line x1="168.53" y1="267.5" x2="168.53" y2="270" stroke="#777777" stroke-width="1"/>
<line x1="202.01" y1="267.5" x2="202.01" y2="270" stroke="#777777" stroke-width="1"/>
<line x1="235.49" y1="267.5" x2="235.49" y2="270" stroke="#777777" stroke-width="1"/>
<line x1="268.98" y1="267.5" x2="268.98" y2="270" stroke="#777777" stroke-width="1"/>
<line x1="302.46" y1="267.5" x2="302.46" y2="270" stroke="#777777" stroke-width="1"/>
<text x="37.8" y="286.2" class="ti">c:DIN having ±20% of change in modified seawater end-member</text>
<text transform="translate(8.6,378.3) rotate(-90)" class="al" text-anchor="middle">the net effect of sink or source of DIN (R) (%)</text>
<line x1="399.5" y1="116.7" x2="683.5" y2="116.7" stroke="#a8a8d4" stroke-width="1.7"/>
<circle cx="404.3" cy="39.5" r="1.7" fill="#000"/>
<circle cx="404.3" cy="167.7" r="1.7" fill="#10109a"/>
<circle cx="435.1" cy="62.5" r="1.7" fill="#000"/>
<circle cx="435.1" cy="152.5" r="1.7" fill="#10109a"/>
<circle cx="453" cy="60.2" r="1.7" fill="#000"/>
<circle cx="453" cy="154.3" r="1.7" fill="#10109a"/>
<circle cx="462.7" cy="93.3" r="1.7" fill="#000"/>
<circle cx="462.7" cy="132" r="1.7" fill="#10109a"/>
<circle cx="480.2" cy="94.5" r="1.7" fill="#000"/>
<circle cx="480.2" cy="131.7" r="1.7" fill="#10109a"/>
<circle cx="522.5" cy="101.9" r="1.7" fill="#000"/>
<circle cx="522.5" cy="126.2" r="1.7" fill="#10109a"/>
<circle cx="543.6" cy="217.3" r="1.7" fill="#000"/>
<circle cx="543.6" cy="41.9" r="1.7" fill="#10109a"/>
<circle cx="561" cy="99.3" r="1.7" fill="#000"/>
<circle cx="561" cy="128.6" r="1.7" fill="#10109a"/>
<circle cx="618" cy="197.4" r="1.7" fill="#000"/>
<circle cx="618" cy="48.1" r="1.7" fill="#10109a"/>
<circle cx="625.9" cy="168.7" r="1.7" fill="#000"/>
<circle cx="625.9" cy="71.6" r="1.7" fill="#10109a"/>
<circle cx="606.1" cy="160.5" r="1.7" fill="#000"/>
<circle cx="606.1" cy="80" r="1.7" fill="#10109a"/>
<circle cx="616.8" cy="147.3" r="1.7" fill="#000"/>
<circle cx="616.8" cy="90.1" r="1.7" fill="#10109a"/>
<circle cx="631" cy="132.1" r="1.7" fill="#000"/>
<circle cx="631" cy="103.2" r="1.7" fill="#10109a"/>
<circle cx="655" cy="125.9" r="1.7" fill="#000"/>
<circle cx="655" cy="106.9" r="1.7" fill="#10109a"/>
<circle cx="667.4" cy="116.6" r="1.7" fill="#000"/>
<circle cx="667.4" cy="116.4" r="1.7" fill="#10109a"/>
<text transform="translate(404.7,42.3) scale(0.95,1)" class="lb2">B1</text>
<text transform="translate(404.7,170.5) scale(0.95,1)" class="lb2">B1</text>
<text transform="translate(435.5,65.3) scale(0.95,1)" class="lb2">A9</text>
<text transform="translate(435.5,155.3) scale(0.95,1)" class="lb2">A9</text>
<text transform="translate(453.4,63) scale(0.95,1)" class="lb2">C1</text>
<text transform="translate(453.4,157.1) scale(0.95,1)" class="lb2">C1</text>
<text transform="translate(463.1,96.1) scale(0.95,1)" class="lb2">B2</text>
<text transform="translate(463.1,134.8) scale(0.95,1)" class="lb2">B2</text>
<text transform="translate(480.6,97.3) scale(0.95,1)" class="lb2">A10</text>
<text transform="translate(480.6,134.5) scale(0.95,1)" class="lb2">A10</text>
<text transform="translate(522.9,104.7) scale(0.95,1)" class="lb2">B6</text>
<text transform="translate(522.9,129) scale(0.95,1)" class="lb2">B6</text>
<text transform="translate(544,220.1) scale(0.95,1)" class="lb2">B4</text>
<text transform="translate(544,44.7) scale(0.95,1)" class="lb2">B4</text>
<text transform="translate(561.4,102.1) scale(0.95,1)" class="lb2">B5</text>
<text transform="translate(561.4,131.4) scale(0.95,1)" class="lb2">B5</text>
<text transform="translate(618.4,200.2) scale(0.95,1)" class="lb2">A13</text>
<text transform="translate(618.4,50.9) scale(0.95,1)" class="lb2">A13</text>
<text transform="translate(626.3,171.5) scale(0.95,1)" class="lb2">A14</text>
<text transform="translate(626.3,74.4) scale(0.95,1)" class="lb2">A14</text>
<text transform="translate(606.5,163.3) scale(0.95,1)" class="lb2">C2</text>
<text transform="translate(606.5,82.8) scale(0.95,1)" class="lb2">C2</text>
<text transform="translate(617.2,150.1) scale(0.95,1)" class="lb2">C4</text>
<text transform="translate(617.2,92.9) scale(0.95,1)" class="lb2">C4</text>
<text transform="translate(631.4,134.9) scale(0.95,1)" class="lb2">A12</text>
<text transform="translate(631.4,106) scale(0.95,1)" class="lb2">A12</text>
<text transform="translate(655.4,128.7) scale(0.95,1)" class="lb2">C3</text>
<text transform="translate(655.4,109.7) scale(0.95,1)" class="lb2">C3</text>
<text transform="translate(667.8,119.4) scale(0.95,1)" class="lb2">A15</text>
<rect x="399.5" y="4.5" width="284" height="223.9" fill="none" stroke="#777777" stroke-width="1.3"/>
<line x1="399.5" y1="228.4" x2="399.5" y2="225" stroke="#5a5a5a" stroke-width="1"/>
<line x1="399.5" y1="4.5" x2="399.5" y2="7.9" stroke="#5a5a5a" stroke-width="1"/>
<text transform="translate(399.5,238) scale(0.98,1)" class="tk" text-anchor="middle">0</text>
<line x1="432.91" y1="228.4" x2="432.91" y2="225" stroke="#5a5a5a" stroke-width="1"/>
<line x1="432.91" y1="4.5" x2="432.91" y2="7.9" stroke="#5a5a5a" stroke-width="1"/>
<text transform="translate(432.91,238) scale(0.98,1)" class="tk" text-anchor="middle">2</text>
<line x1="466.32" y1="228.4" x2="466.32" y2="225" stroke="#5a5a5a" stroke-width="1"/>
<line x1="466.32" y1="4.5" x2="466.32" y2="7.9" stroke="#5a5a5a" stroke-width="1"/>
<text transform="translate(466.32,238) scale(0.98,1)" class="tk" text-anchor="middle">4</text>
<line x1="499.74" y1="228.4" x2="499.74" y2="225" stroke="#5a5a5a" stroke-width="1"/>
<line x1="499.74" y1="4.5" x2="499.74" y2="7.9" stroke="#5a5a5a" stroke-width="1"/>
<text transform="translate(499.74,238) scale(0.98,1)" class="tk" text-anchor="middle">6</text>
<line x1="533.15" y1="228.4" x2="533.15" y2="225" stroke="#5a5a5a" stroke-width="1"/>
<line x1="533.15" y1="4.5" x2="533.15" y2="7.9" stroke="#5a5a5a" stroke-width="1"/>
<text transform="translate(533.15,238) scale(0.98,1)" class="tk" text-anchor="middle">8</text>
<line x1="566.56" y1="228.4" x2="566.56" y2="225" stroke="#5a5a5a" stroke-width="1"/>
<line x1="566.56" y1="4.5" x2="566.56" y2="7.9" stroke="#5a5a5a" stroke-width="1"/>
<text transform="translate(566.56,238) scale(0.98,1)" class="tk" text-anchor="middle">10</text>
<line x1="599.97" y1="228.4" x2="599.97" y2="225" stroke="#5a5a5a" stroke-width="1"/>
<line x1="599.97" y1="4.5" x2="599.97" y2="7.9" stroke="#5a5a5a" stroke-width="1"/>
<text transform="translate(599.97,238) scale(0.98,1)" class="tk" text-anchor="middle">12</text>
<line x1="633.38" y1="228.4" x2="633.38" y2="225" stroke="#5a5a5a" stroke-width="1"/>
<line x1="633.38" y1="4.5" x2="633.38" y2="7.9" stroke="#5a5a5a" stroke-width="1"/>
<text transform="translate(633.38,238) scale(0.98,1)" class="tk" text-anchor="middle">14</text>
<line x1="666.79" y1="228.4" x2="666.79" y2="225" stroke="#5a5a5a" stroke-width="1"/>
<line x1="666.79" y1="4.5" x2="666.79" y2="7.9" stroke="#5a5a5a" stroke-width="1"/>
<text transform="translate(666.79,238) scale(0.98,1)" class="tk" text-anchor="middle">16</text>
<line x1="399.5" y1="209.74" x2="402.9" y2="209.74" stroke="#5a5a5a" stroke-width="1"/>
<line x1="683.5" y1="209.74" x2="680.1" y2="209.74" stroke="#5a5a5a" stroke-width="1"/>
<text transform="translate(396.5,212.64) scale(0.98,1)" class="tk" text-anchor="end">-100</text>
<line x1="399.5" y1="163.1" x2="402.9" y2="163.1" stroke="#5a5a5a" stroke-width="1"/>
<line x1="683.5" y1="163.1" x2="680.1" y2="163.1" stroke="#5a5a5a" stroke-width="1"/>
<text transform="translate(396.5,166) scale(0.98,1)" class="tk" text-anchor="end">-50</text>
<line x1="399.5" y1="116.45" x2="402.9" y2="116.45" stroke="#5a5a5a" stroke-width="1"/>
<line x1="683.5" y1="116.45" x2="680.1" y2="116.45" stroke="#5a5a5a" stroke-width="1"/>
<text transform="translate(396.5,119.35) scale(0.98,1)" class="tk" text-anchor="end">0</text>
<line x1="399.5" y1="69.8" x2="402.9" y2="69.8" stroke="#5a5a5a" stroke-width="1"/>
<line x1="683.5" y1="69.8" x2="680.1" y2="69.8" stroke="#5a5a5a" stroke-width="1"/>
<text transform="translate(396.5,72.7) scale(0.98,1)" class="tk" text-anchor="end">50</text>
<line x1="399.5" y1="23.16" x2="402.9" y2="23.16" stroke="#5a5a5a" stroke-width="1"/>
<line x1="683.5" y1="23.16" x2="680.1" y2="23.16" stroke="#5a5a5a" stroke-width="1"/>
<text transform="translate(396.5,26.06) scale(0.98,1)" class="tk" text-anchor="end">100</text>
<text x="539.9" y="249.1" class="al" text-anchor="middle">Salinity</text>
<text x="402.9" y="29.6" class="pl">b</text>
<text transform="translate(374.9,114.9) rotate(-90)" class="al" text-anchor="middle">Deviation of R (%)</text>
<rect x="614.7" y="8.5" width="60.7" height="27.1" fill="#fff" stroke="#7a7a7a" stroke-width="1"/>
<circle cx="633.6" cy="16.0" r="1.4" fill="#000"/>
<circle cx="633.6" cy="28.4" r="1.4" fill="#10109a"/>
<text transform="translate(650.2,19.3) scale(0.98,1)" class="lg">+20%</text>
<text transform="translate(650.2,31.8) scale(0.98,1)" class="lg">-20%</text>
<line x1="402.7" y1="381.4" x2="682.8" y2="381.4" stroke="#6c6ca8" stroke-width="1.3"/>
<circle cx="407.6" cy="379.8" r="1.7" fill="#000"/>
<circle cx="407.6" cy="382.2" r="1.7" fill="#10109a"/>
<circle cx="409.8" cy="380.2" r="1.7" fill="#000"/>
<circle cx="409.8" cy="382.6" r="1.7" fill="#10109a"/>
<circle cx="438" cy="379.6" r="1.7" fill="#000"/>
<circle cx="438" cy="382.8" r="1.7" fill="#10109a"/>
<circle cx="455.5" cy="378.4" r="1.7" fill="#000"/>
<circle cx="455.5" cy="383.7" r="1.7" fill="#10109a"/>
<circle cx="465.4" cy="379.2" r="1.7" fill="#000"/>
<circle cx="465.4" cy="382.6" r="1.7" fill="#10109a"/>
<circle cx="482" cy="378.8" r="1.7" fill="#000"/>
<circle cx="482" cy="382.8" r="1.7" fill="#10109a"/>
<circle cx="524.1" cy="378.4" r="1.7" fill="#000"/>
<circle cx="524.1" cy="383.5" r="1.7" fill="#10109a"/>
<circle cx="562" cy="375.1" r="1.7" fill="#000"/>
<circle cx="562" cy="386.1" r="1.7" fill="#10109a"/>
<circle cx="493.3" cy="343.2" r="1.7" fill="#000"/>
<circle cx="493.3" cy="416.8" r="1.7" fill="#10109a"/>
<circle cx="533.1" cy="476.6" r="1.7" fill="#000"/>
<circle cx="533.1" cy="289.3" r="1.7" fill="#10109a"/>
<circle cx="544.8" cy="405.8" r="1.7" fill="#000"/>
<circle cx="544.8" cy="356.3" r="1.7" fill="#10109a"/>
<circle cx="618.3" cy="469.4" r="1.7" fill="#000"/>
<circle cx="618.3" cy="301.6" r="1.7" fill="#10109a"/>
<circle cx="626.2" cy="451.9" r="1.7" fill="#000"/>
<circle cx="626.2" cy="318" r="1.7" fill="#10109a"/>
<circle cx="606.4" cy="416.7" r="1.7" fill="#000"/>
<circle cx="606.4" cy="348" r="1.7" fill="#10109a"/>
<circle cx="617.2" cy="414.5" r="1.7" fill="#000"/>
<circle cx="617.2" cy="350.7" r="1.7" fill="#10109a"/>
<circle cx="631.1" cy="406" r="1.7" fill="#000"/>
<circle cx="631.1" cy="358.2" r="1.7" fill="#10109a"/>
<circle cx="654.6" cy="437.4" r="1.7" fill="#000"/>
<circle cx="654.6" cy="333.3" r="1.7" fill="#10109a"/>
<text transform="translate(408,383.1) scale(0.95,1)" class="lb2">B1</text>
<text transform="translate(410.2,377.9) scale(0.95,1)" class="lb2">A8</text>
<text transform="translate(410.2,389) scale(0.95,1)" class="lb2">A8</text>
<text transform="translate(438.4,381.5) scale(0.95,1)" class="lb2">A9</text>
<text transform="translate(438.4,390.6) scale(0.95,1)" class="lb2">A9</text>
<text transform="translate(455.9,380.3) scale(0.95,1)" class="lb2">C1</text>
<text transform="translate(455.9,386.7) scale(0.95,1)" class="lb2">C1</text>
<text transform="translate(465.8,381.2) scale(0.95,1)" class="lb2">B2</text>
<text transform="translate(465.8,386.1) scale(0.95,1)" class="lb2">B2</text>
<text transform="translate(482.4,380.9) scale(0.95,1)" class="lb2">A10</text>
<text transform="translate(482.4,385.5) scale(0.95,1)" class="lb2">A10</text>
<text transform="translate(524.5,380.1) scale(0.95,1)" class="lb2">B6</text>
<text transform="translate(524.5,385.9) scale(0.95,1)" class="lb2">B6</text>
<text transform="translate(562.4,377.8) scale(0.95,1)" class="lb2">B5</text>
<text transform="translate(562.4,388.8) scale(0.95,1)" class="lb2">B5</text>
<text transform="translate(493.7,345.9) scale(0.95,1)" class="lb2">B3</text>
<text transform="translate(493.7,419.5) scale(0.95,1)" class="lb2">B3</text>
<text transform="translate(533.5,479.3) scale(0.95,1)" class="lb2">A11</text>
<text transform="translate(533.5,292) scale(0.95,1)" class="lb2">A11</text>
<text transform="translate(545.2,408.5) scale(0.95,1)" class="lb2">B4</text>
<text transform="translate(545.2,359) scale(0.95,1)" class="lb2">B4</text>
<text transform="translate(618.7,472.1) scale(0.95,1)" class="lb2">A13</text>
<text transform="translate(618.7,304.3) scale(0.95,1)" class="lb2">A13</text>
<text transform="translate(626.6,454.6) scale(0.95,1)" class="lb2">A14</text>
<text transform="translate(626.6,320.7) scale(0.95,1)" class="lb2">A14</text>
<text transform="translate(606.8,419.4) scale(0.95,1)" class="lb2">C2</text>
<text transform="translate(606.8,350.7) scale(0.95,1)" class="lb2">C2</text>
<text transform="translate(617.6,417.2) scale(0.95,1)" class="lb2">C4</text>
<text transform="translate(617.6,353.4) scale(0.95,1)" class="lb2">C4</text>
<text transform="translate(631.5,408.7) scale(0.95,1)" class="lb2">A12</text>
<text transform="translate(631.5,360.9) scale(0.95,1)" class="lb2">A12</text>
<text transform="translate(655,440.1) scale(0.95,1)" class="lb2">C3</text>
<text transform="translate(655,336) scale(0.95,1)" class="lb2">C3</text>
<rect x="402.7" y="270.4" width="280.1" height="220.9" fill="none" stroke="#777777" stroke-width="1.3"/>
<line x1="402.7" y1="491.3" x2="402.7" y2="487.9" stroke="#5a5a5a" stroke-width="1"/>
<line x1="402.7" y1="270.4" x2="402.7" y2="273.8" stroke="#5a5a5a" stroke-width="1"/>
<text transform="translate(402.7,501.6) scale(0.98,1)" class="tk" text-anchor="middle">0</text>
<line x1="435.65" y1="491.3" x2="435.65" y2="487.9" stroke="#5a5a5a" stroke-width="1"/>
<line x1="435.65" y1="270.4" x2="435.65" y2="273.8" stroke="#5a5a5a" stroke-width="1"/>
<text transform="translate(435.65,501.6) scale(0.98,1)" class="tk" text-anchor="middle">2</text>
<line x1="468.61" y1="491.3" x2="468.61" y2="487.9" stroke="#5a5a5a" stroke-width="1"/>
<line x1="468.61" y1="270.4" x2="468.61" y2="273.8" stroke="#5a5a5a" stroke-width="1"/>
<text transform="translate(468.61,501.6) scale(0.98,1)" class="tk" text-anchor="middle">4</text>
<line x1="501.56" y1="491.3" x2="501.56" y2="487.9" stroke="#5a5a5a" stroke-width="1"/>
<line x1="501.56" y1="270.4" x2="501.56" y2="273.8" stroke="#5a5a5a" stroke-width="1"/>
<text transform="translate(501.56,501.6) scale(0.98,1)" class="tk" text-anchor="middle">6</text>
<line x1="534.51" y1="491.3" x2="534.51" y2="487.9" stroke="#5a5a5a" stroke-width="1"/>
<line x1="534.51" y1="270.4" x2="534.51" y2="273.8" stroke="#5a5a5a" stroke-width="1"/>
<text transform="translate(534.51,501.6) scale(0.98,1)" class="tk" text-anchor="middle">8</text>
<line x1="567.46" y1="491.3" x2="567.46" y2="487.9" stroke="#5a5a5a" stroke-width="1"/>
<line x1="567.46" y1="270.4" x2="567.46" y2="273.8" stroke="#5a5a5a" stroke-width="1"/>
<text transform="translate(567.46,501.6) scale(0.98,1)" class="tk" text-anchor="middle">10</text>
<line x1="600.42" y1="491.3" x2="600.42" y2="487.9" stroke="#5a5a5a" stroke-width="1"/>
<line x1="600.42" y1="270.4" x2="600.42" y2="273.8" stroke="#5a5a5a" stroke-width="1"/>
<text transform="translate(600.42,501.6) scale(0.98,1)" class="tk" text-anchor="middle">12</text>
<line x1="633.37" y1="491.3" x2="633.37" y2="487.9" stroke="#5a5a5a" stroke-width="1"/>
<line x1="633.37" y1="270.4" x2="633.37" y2="273.8" stroke="#5a5a5a" stroke-width="1"/>
<text transform="translate(633.37,501.6) scale(0.98,1)" class="tk" text-anchor="middle">14</text>
<line x1="666.32" y1="491.3" x2="666.32" y2="487.9" stroke="#5a5a5a" stroke-width="1"/>
<line x1="666.32" y1="270.4" x2="666.32" y2="273.8" stroke="#5a5a5a" stroke-width="1"/>
<text transform="translate(666.32,501.6) scale(0.98,1)" class="tk" text-anchor="middle">16</text>
<line x1="402.7" y1="482.8" x2="406.1" y2="482.8" stroke="#5a5a5a" stroke-width="1"/>
<line x1="682.8" y1="482.8" x2="679.4" y2="482.8" stroke="#5a5a5a" stroke-width="1"/>
<text transform="translate(399.7,485.7) scale(0.98,1)" class="tk" text-anchor="end">-60</text>
<line x1="402.7" y1="448.82" x2="406.1" y2="448.82" stroke="#5a5a5a" stroke-width="1"/>
<line x1="682.8" y1="448.82" x2="679.4" y2="448.82" stroke="#5a5a5a" stroke-width="1"/>
<text transform="translate(399.7,451.72) scale(0.98,1)" class="tk" text-anchor="end">-40</text>
<line x1="402.7" y1="414.83" x2="406.1" y2="414.83" stroke="#5a5a5a" stroke-width="1"/>
<line x1="682.8" y1="414.83" x2="679.4" y2="414.83" stroke="#5a5a5a" stroke-width="1"/>
<text transform="translate(399.7,417.73) scale(0.98,1)" class="tk" text-anchor="end">-20</text>
<line x1="402.7" y1="380.85" x2="406.1" y2="380.85" stroke="#5a5a5a" stroke-width="1"/>
<line x1="682.8" y1="380.85" x2="679.4" y2="380.85" stroke="#5a5a5a" stroke-width="1"/>
<text transform="translate(399.7,383.75) scale(0.98,1)" class="tk" text-anchor="end">0</text>
<line x1="402.7" y1="346.87" x2="406.1" y2="346.87" stroke="#5a5a5a" stroke-width="1"/>
<line x1="682.8" y1="346.87" x2="679.4" y2="346.87" stroke="#5a5a5a" stroke-width="1"/>
<text transform="translate(399.7,349.77) scale(0.98,1)" class="tk" text-anchor="end">20</text>
<line x1="402.7" y1="312.88" x2="406.1" y2="312.88" stroke="#5a5a5a" stroke-width="1"/>
<line x1="682.8" y1="312.88" x2="679.4" y2="312.88" stroke="#5a5a5a" stroke-width="1"/>
<text transform="translate(399.7,315.78) scale(0.98,1)" class="tk" text-anchor="end">40</text>
<line x1="402.7" y1="278.9" x2="406.1" y2="278.9" stroke="#5a5a5a" stroke-width="1"/>
<line x1="682.8" y1="278.9" x2="679.4" y2="278.9" stroke="#5a5a5a" stroke-width="1"/>
<text transform="translate(399.7,281.8) scale(0.98,1)" class="tk" text-anchor="end">60</text>
<text x="541.15" y="511.3" class="al" text-anchor="middle">Salinity</text>
<text x="404.8" y="281.4" class="pl">d</text>
<text transform="translate(381.4,380.2) rotate(-90)" class="al" text-anchor="middle">Deviation of R (%)</text>
<rect x="412.1" y="448.4" width="59.9" height="26.8" fill="#fff" stroke="#7a7a7a" stroke-width="1"/>
<circle cx="430.4" cy="455.6" r="1.4" fill="#000"/>
<circle cx="430.4" cy="467.7" r="1.4" fill="#10109a"/>
<text transform="translate(447.4,458.9) scale(0.98,1)" class="lg">+20%</text>
<text transform="translate(447.4,471) scale(0.98,1)" class="lg">-20%</text>
</svg>
</body></html>
